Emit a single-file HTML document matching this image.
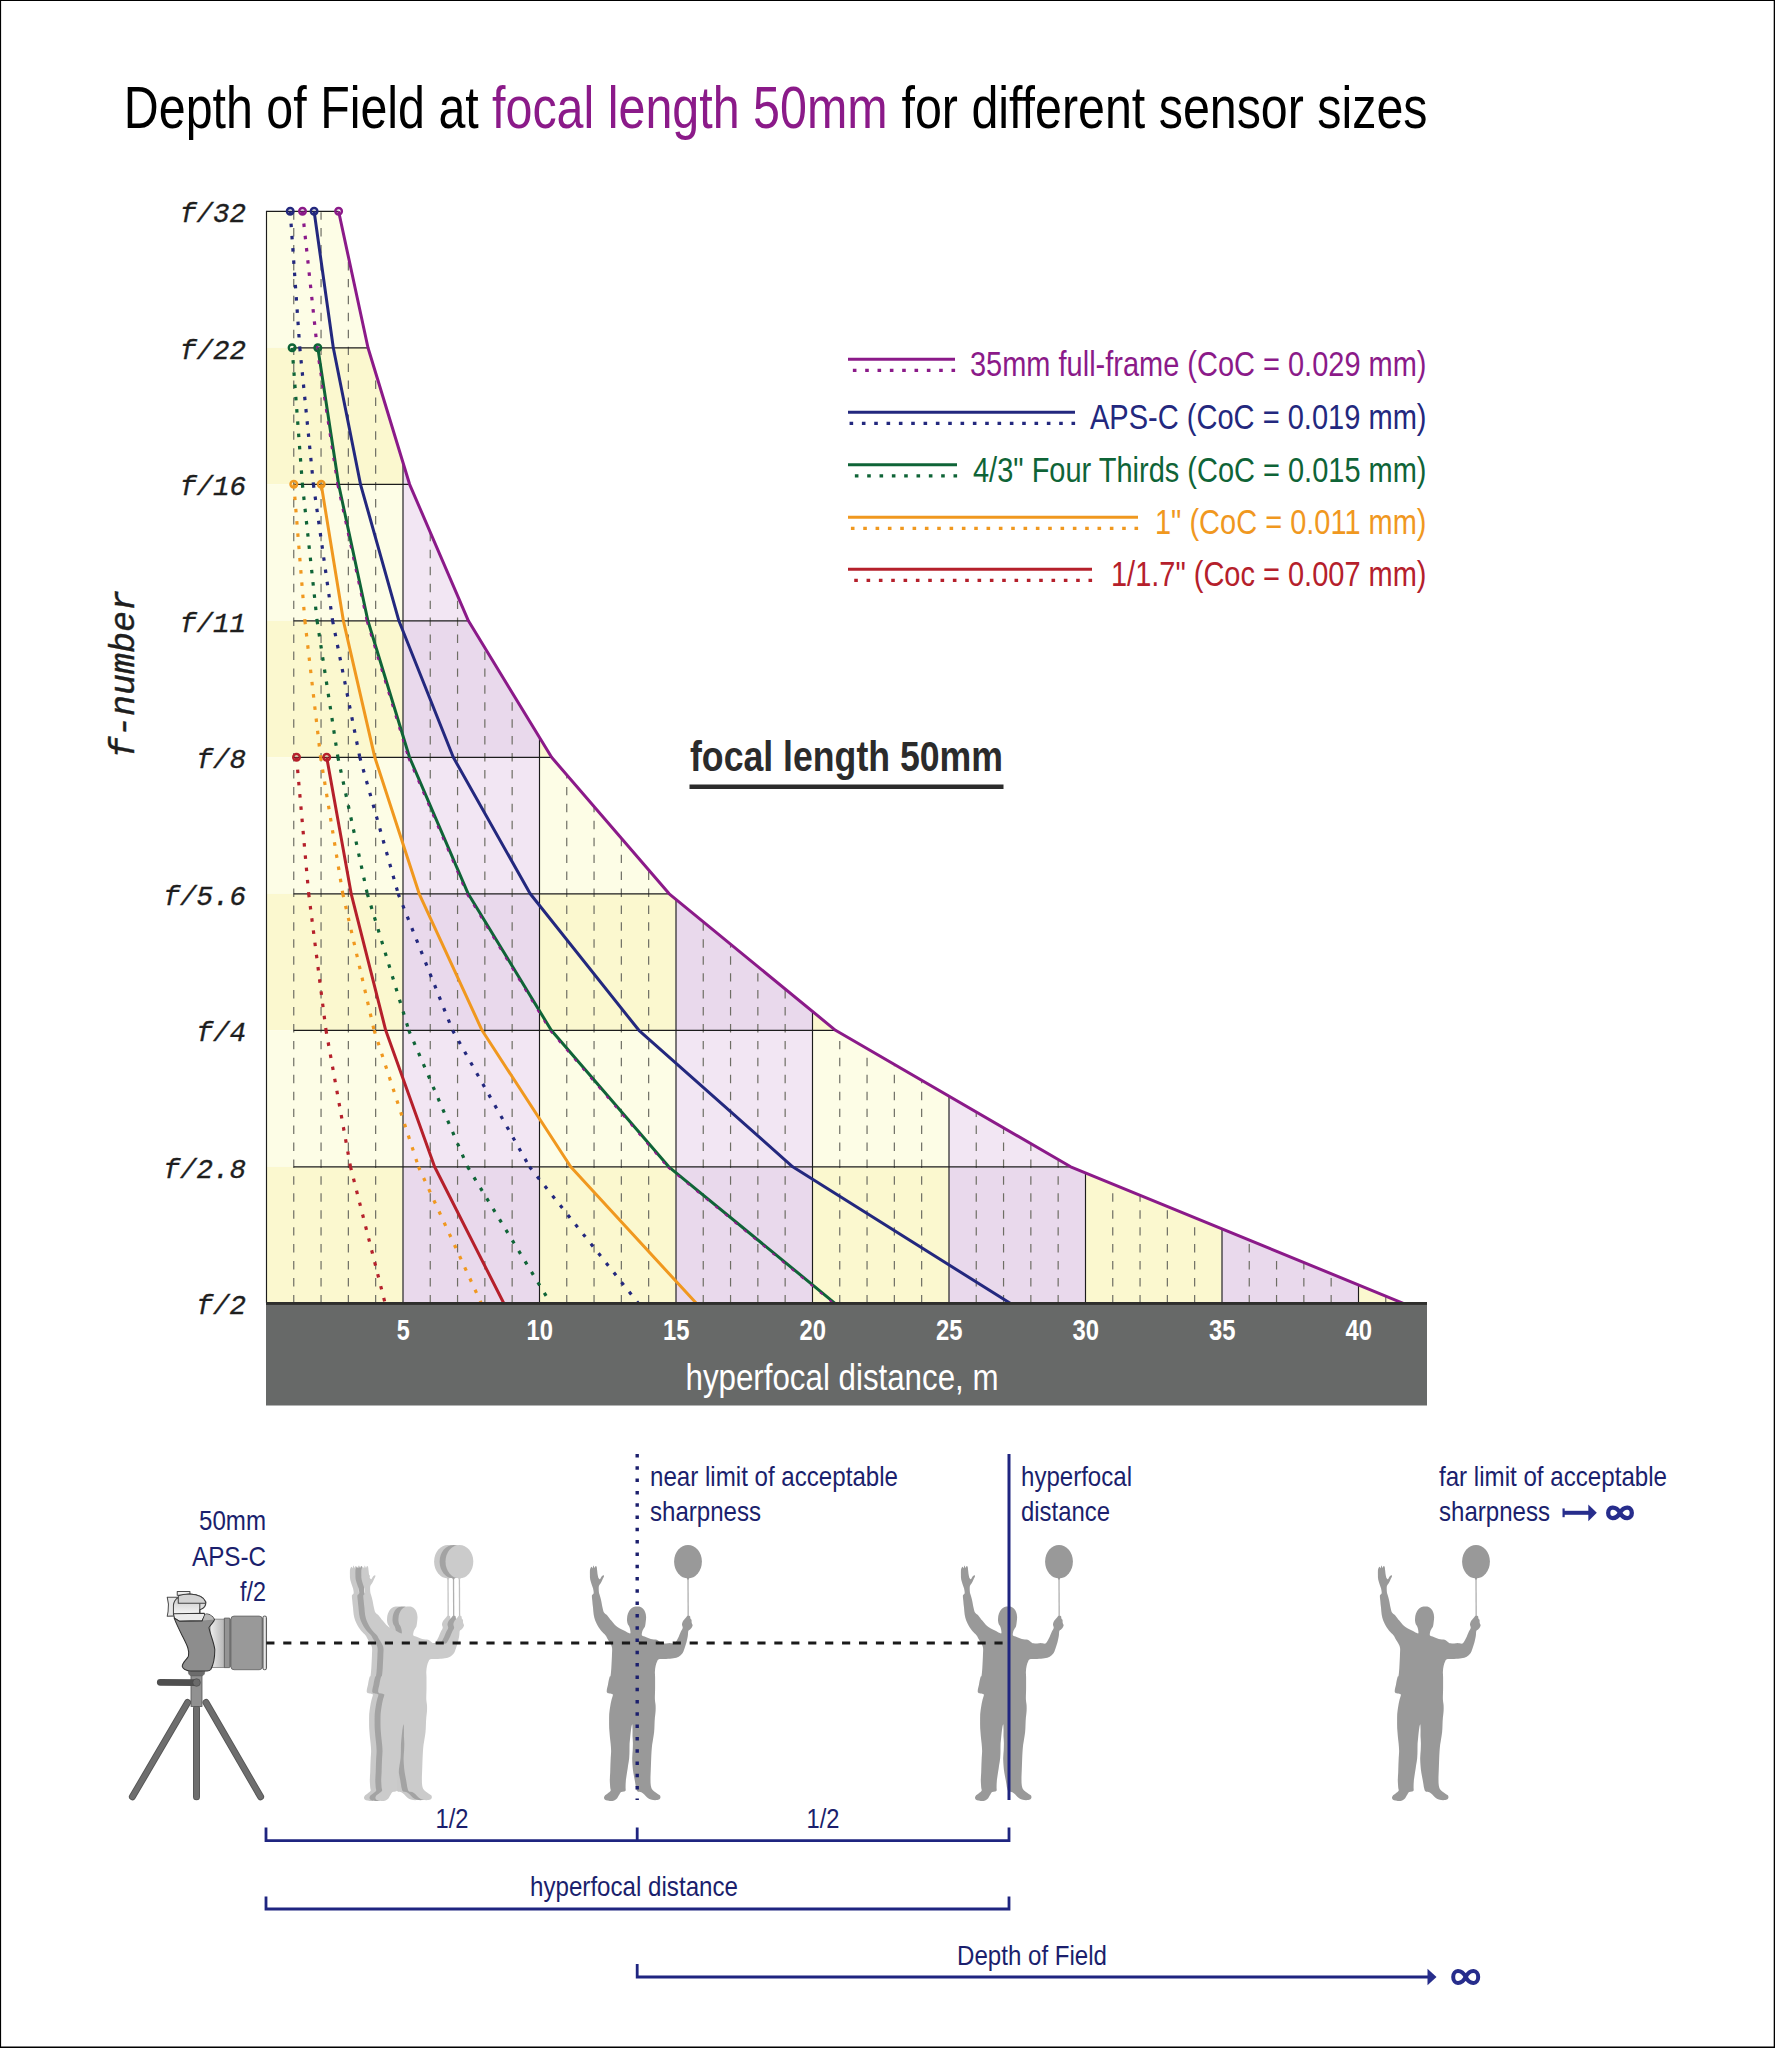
<!DOCTYPE html>
<html><head><meta charset="utf-8"><title>Depth of Field</title>
<style>
html,body{margin:0;padding:0;background:#fff;}
body{width:1775px;height:2048px;overflow:hidden;font-family:"Liberation Sans",sans-serif;}
svg{display:block;}
text{font-family:"Liberation Sans",sans-serif;}
.mono{font-family:"Liberation Mono",monospace;font-style:italic;}
</style></head><body>
<svg width="1775" height="2048" viewBox="0 0 1775 2048">
<rect x="0" y="0" width="1775" height="2048" fill="#fff"/>
<text x="123.8" y="127.8" font-size="58.4" fill="#000" text-anchor="start" font-weight="normal" textLength="355" lengthAdjust="spacingAndGlyphs">Depth of Field at</text>
<text x="492" y="127.8" font-size="58.4" fill="#8b1a89" text-anchor="start" font-weight="normal" textLength="395.6" lengthAdjust="spacingAndGlyphs">focal length 50mm</text>
<text x="901.5" y="127.8" font-size="58.4" fill="#000" text-anchor="start" font-weight="normal" textLength="526" lengthAdjust="spacingAndGlyphs">for different sensor sizes</text>
<defs><clipPath id="cp"><path d="M266.3,211.3 L338.6,211.3 L368.0,347.8 L409.6,484.3 L468.4,620.8 L551.6,757.3 L669.2,893.8 L835.5,1030.3 L1070.7,1166.8 L1403.3,1303.3 L266.3,1303.3 Z"/></clipPath></defs>
<g clip-path="url(#cp)">
<rect x="266.3" y="211.3" width="136.5" height="136.5" fill="#fdfde6"/>
<rect x="266.3" y="347.8" width="136.5" height="136.5" fill="#fbf8cf"/>
<rect x="266.3" y="484.3" width="136.5" height="136.5" fill="#fdfde6"/>
<rect x="266.3" y="620.8" width="136.5" height="136.5" fill="#fbf8cf"/>
<rect x="266.3" y="757.3" width="136.5" height="136.5" fill="#fdfde6"/>
<rect x="266.3" y="893.8" width="136.5" height="136.5" fill="#fbf8cf"/>
<rect x="266.3" y="1030.3" width="136.5" height="136.5" fill="#fdfde6"/>
<rect x="266.3" y="1166.8" width="136.5" height="136.5" fill="#fbf8cf"/>
<rect x="402.8" y="211.3" width="136.5" height="136.5" fill="#f2e6f3"/>
<rect x="402.8" y="347.8" width="136.5" height="136.5" fill="#e9d9ec"/>
<rect x="402.8" y="484.3" width="136.5" height="136.5" fill="#f2e6f3"/>
<rect x="402.8" y="620.8" width="136.5" height="136.5" fill="#e9d9ec"/>
<rect x="402.8" y="757.3" width="136.5" height="136.5" fill="#f2e6f3"/>
<rect x="402.8" y="893.8" width="136.5" height="136.5" fill="#e9d9ec"/>
<rect x="402.8" y="1030.3" width="136.5" height="136.5" fill="#f2e6f3"/>
<rect x="402.8" y="1166.8" width="136.5" height="136.5" fill="#e9d9ec"/>
<rect x="539.3" y="211.3" width="136.5" height="136.5" fill="#fdfde6"/>
<rect x="539.3" y="347.8" width="136.5" height="136.5" fill="#fbf8cf"/>
<rect x="539.3" y="484.3" width="136.5" height="136.5" fill="#fdfde6"/>
<rect x="539.3" y="620.8" width="136.5" height="136.5" fill="#fbf8cf"/>
<rect x="539.3" y="757.3" width="136.5" height="136.5" fill="#fdfde6"/>
<rect x="539.3" y="893.8" width="136.5" height="136.5" fill="#fbf8cf"/>
<rect x="539.3" y="1030.3" width="136.5" height="136.5" fill="#fdfde6"/>
<rect x="539.3" y="1166.8" width="136.5" height="136.5" fill="#fbf8cf"/>
<rect x="675.8" y="211.3" width="136.5" height="136.5" fill="#f2e6f3"/>
<rect x="675.8" y="347.8" width="136.5" height="136.5" fill="#e9d9ec"/>
<rect x="675.8" y="484.3" width="136.5" height="136.5" fill="#f2e6f3"/>
<rect x="675.8" y="620.8" width="136.5" height="136.5" fill="#e9d9ec"/>
<rect x="675.8" y="757.3" width="136.5" height="136.5" fill="#f2e6f3"/>
<rect x="675.8" y="893.8" width="136.5" height="136.5" fill="#e9d9ec"/>
<rect x="675.8" y="1030.3" width="136.5" height="136.5" fill="#f2e6f3"/>
<rect x="675.8" y="1166.8" width="136.5" height="136.5" fill="#e9d9ec"/>
<rect x="812.3" y="211.3" width="136.5" height="136.5" fill="#fdfde6"/>
<rect x="812.3" y="347.8" width="136.5" height="136.5" fill="#fbf8cf"/>
<rect x="812.3" y="484.3" width="136.5" height="136.5" fill="#fdfde6"/>
<rect x="812.3" y="620.8" width="136.5" height="136.5" fill="#fbf8cf"/>
<rect x="812.3" y="757.3" width="136.5" height="136.5" fill="#fdfde6"/>
<rect x="812.3" y="893.8" width="136.5" height="136.5" fill="#fbf8cf"/>
<rect x="812.3" y="1030.3" width="136.5" height="136.5" fill="#fdfde6"/>
<rect x="812.3" y="1166.8" width="136.5" height="136.5" fill="#fbf8cf"/>
<rect x="948.8" y="211.3" width="136.5" height="136.5" fill="#f2e6f3"/>
<rect x="948.8" y="347.8" width="136.5" height="136.5" fill="#e9d9ec"/>
<rect x="948.8" y="484.3" width="136.5" height="136.5" fill="#f2e6f3"/>
<rect x="948.8" y="620.8" width="136.5" height="136.5" fill="#e9d9ec"/>
<rect x="948.8" y="757.3" width="136.5" height="136.5" fill="#f2e6f3"/>
<rect x="948.8" y="893.8" width="136.5" height="136.5" fill="#e9d9ec"/>
<rect x="948.8" y="1030.3" width="136.5" height="136.5" fill="#f2e6f3"/>
<rect x="948.8" y="1166.8" width="136.5" height="136.5" fill="#e9d9ec"/>
<rect x="1085.3" y="211.3" width="136.5" height="136.5" fill="#fdfde6"/>
<rect x="1085.3" y="347.8" width="136.5" height="136.5" fill="#fbf8cf"/>
<rect x="1085.3" y="484.3" width="136.5" height="136.5" fill="#fdfde6"/>
<rect x="1085.3" y="620.8" width="136.5" height="136.5" fill="#fbf8cf"/>
<rect x="1085.3" y="757.3" width="136.5" height="136.5" fill="#fdfde6"/>
<rect x="1085.3" y="893.8" width="136.5" height="136.5" fill="#fbf8cf"/>
<rect x="1085.3" y="1030.3" width="136.5" height="136.5" fill="#fdfde6"/>
<rect x="1085.3" y="1166.8" width="136.5" height="136.5" fill="#fbf8cf"/>
<rect x="1221.8" y="211.3" width="136.5" height="136.5" fill="#f2e6f3"/>
<rect x="1221.8" y="347.8" width="136.5" height="136.5" fill="#e9d9ec"/>
<rect x="1221.8" y="484.3" width="136.5" height="136.5" fill="#f2e6f3"/>
<rect x="1221.8" y="620.8" width="136.5" height="136.5" fill="#e9d9ec"/>
<rect x="1221.8" y="757.3" width="136.5" height="136.5" fill="#f2e6f3"/>
<rect x="1221.8" y="893.8" width="136.5" height="136.5" fill="#e9d9ec"/>
<rect x="1221.8" y="1030.3" width="136.5" height="136.5" fill="#f2e6f3"/>
<rect x="1221.8" y="1166.8" width="136.5" height="136.5" fill="#e9d9ec"/>
<rect x="1358.3" y="211.3" width="136.5" height="136.5" fill="#fdfde6"/>
<rect x="1358.3" y="347.8" width="136.5" height="136.5" fill="#fbf8cf"/>
<rect x="1358.3" y="484.3" width="136.5" height="136.5" fill="#fdfde6"/>
<rect x="1358.3" y="620.8" width="136.5" height="136.5" fill="#fbf8cf"/>
<rect x="1358.3" y="757.3" width="136.5" height="136.5" fill="#fdfde6"/>
<rect x="1358.3" y="893.8" width="136.5" height="136.5" fill="#fbf8cf"/>
<rect x="1358.3" y="1030.3" width="136.5" height="136.5" fill="#fdfde6"/>
<rect x="1358.3" y="1166.8" width="136.5" height="136.5" fill="#fbf8cf"/>
</g>
<g stroke="#6e6e64" stroke-width="1.2" stroke-dasharray="8.45 8.483" fill="none">
<line x1="293.75" y1="1303.35" x2="293.75" y2="212.3"/>
<line x1="321.05" y1="1303.35" x2="321.05" y2="212.3"/>
<line x1="348.35" y1="1303.35" x2="348.35" y2="256.7"/>
<line x1="375.65" y1="1303.35" x2="375.65" y2="373.3"/>
<line x1="430.25" y1="1303.35" x2="430.25" y2="532.8"/>
<line x1="457.55" y1="1303.35" x2="457.55" y2="596.2"/>
<line x1="484.85" y1="1303.35" x2="484.85" y2="648.5"/>
<line x1="512.15" y1="1303.35" x2="512.15" y2="693.3"/>
<line x1="566.75" y1="1303.35" x2="566.75" y2="775.7"/>
<line x1="594.05" y1="1303.35" x2="594.05" y2="807.4"/>
<line x1="621.35" y1="1303.35" x2="621.35" y2="839.1"/>
<line x1="648.65" y1="1303.35" x2="648.65" y2="870.8"/>
<line x1="703.25" y1="1303.35" x2="703.25" y2="922.6"/>
<line x1="730.55" y1="1303.35" x2="730.55" y2="945.0"/>
<line x1="757.85" y1="1303.35" x2="757.85" y2="967.4"/>
<line x1="785.15" y1="1303.35" x2="785.15" y2="989.8"/>
<line x1="839.75" y1="1303.35" x2="839.75" y2="1033.7"/>
<line x1="867.05" y1="1303.35" x2="867.05" y2="1049.5"/>
<line x1="894.35" y1="1303.35" x2="894.35" y2="1065.4"/>
<line x1="921.65" y1="1303.35" x2="921.65" y2="1081.2"/>
<line x1="976.25" y1="1303.35" x2="976.25" y2="1112.9"/>
<line x1="1003.55" y1="1303.35" x2="1003.55" y2="1128.7"/>
<line x1="1030.85" y1="1303.35" x2="1030.85" y2="1144.6"/>
<line x1="1058.15" y1="1303.35" x2="1058.15" y2="1160.4"/>
<line x1="1112.75" y1="1303.35" x2="1112.75" y2="1185.0"/>
<line x1="1140.05" y1="1303.35" x2="1140.05" y2="1196.2"/>
<line x1="1167.35" y1="1303.35" x2="1167.35" y2="1207.4"/>
<line x1="1194.65" y1="1303.35" x2="1194.65" y2="1218.6"/>
<line x1="1249.25" y1="1303.35" x2="1249.25" y2="1241.0"/>
<line x1="1276.55" y1="1303.35" x2="1276.55" y2="1252.2"/>
<line x1="1303.85" y1="1303.35" x2="1303.85" y2="1263.4"/>
<line x1="1331.15" y1="1303.35" x2="1331.15" y2="1274.6"/>
<line x1="1385.75" y1="1303.35" x2="1385.75" y2="1297.0"/>
</g>
<g stroke="#1c1c1c" stroke-width="1.15" fill="none">
<line x1="403.00" y1="1303.3" x2="403.00" y2="461.9"/>
<line x1="539.50" y1="1303.3" x2="539.50" y2="737.1"/>
<line x1="676.00" y1="1303.3" x2="676.00" y2="899.2"/>
<line x1="812.50" y1="1303.3" x2="812.50" y2="1011.3"/>
<line x1="949.00" y1="1303.3" x2="949.00" y2="1096.0"/>
<line x1="1085.50" y1="1303.3" x2="1085.50" y2="1172.8"/>
<line x1="1222.00" y1="1303.3" x2="1222.00" y2="1228.8"/>
<line x1="1358.50" y1="1303.3" x2="1358.50" y2="1284.8"/>
<path d="M266.5,1303.3 L266.5,211.3 L338.6,211.3"/>
<line x1="293.6" y1="347.8" x2="368.0" y2="347.8"/>
<line x1="293.6" y1="484.3" x2="409.6" y2="484.3"/>
<line x1="293.6" y1="620.8" x2="468.4" y2="620.8"/>
<line x1="293.6" y1="757.3" x2="551.6" y2="757.3"/>
<line x1="293.6" y1="893.8" x2="669.2" y2="893.8"/>
<line x1="293.6" y1="1030.3" x2="835.5" y2="1030.3"/>
<line x1="293.6" y1="1166.8" x2="1070.7" y2="1166.8"/>
</g>
<g fill="none" stroke="#b5202b" stroke-width="3.2" stroke-dasharray="3.5 8.8"><line x1="296.5" y1="757.3" x2="308.7" y2="893.8"/><line x1="308.7" y1="893.8" x2="326.0" y2="1030.3"/><line x1="326.0" y1="1030.3" x2="350.5" y2="1166.8"/><line x1="350.5" y1="1166.8" x2="385.1" y2="1303.3"/></g>
<g fill="none" stroke="#f0981f" stroke-width="3.2" stroke-dasharray="3.5 8.8"><line x1="293.8" y1="484.3" x2="304.9" y2="620.8"/><line x1="304.9" y1="620.8" x2="320.6" y2="757.3"/><line x1="320.6" y1="757.3" x2="342.8" y2="893.8"/><line x1="342.8" y1="893.8" x2="374.1" y2="1030.3"/><line x1="374.1" y1="1030.3" x2="418.5" y2="1166.8"/><line x1="418.5" y1="1166.8" x2="481.3" y2="1303.3"/></g>
<g fill="none" stroke="#0f6437" stroke-width="3.2" stroke-dasharray="3.5 8.8"><line x1="292.1" y1="347.8" x2="302.4" y2="484.3"/><line x1="302.4" y1="484.3" x2="317.1" y2="620.8"/><line x1="317.1" y1="620.8" x2="337.9" y2="757.3"/><line x1="337.9" y1="757.3" x2="367.3" y2="893.8"/><line x1="367.3" y1="893.8" x2="408.8" y2="1030.3"/><line x1="408.8" y1="1030.3" x2="467.6" y2="1166.8"/><line x1="467.6" y1="1166.8" x2="550.6" y2="1303.3"/></g>
<g fill="none" stroke="#23287e" stroke-width="3.2" stroke-dasharray="3.5 8.8"><line x1="290.2" y1="211.3" x2="299.8" y2="347.8"/><line x1="299.8" y1="347.8" x2="313.4" y2="484.3"/><line x1="313.4" y1="484.3" x2="332.6" y2="620.8"/><line x1="332.6" y1="620.8" x2="359.8" y2="757.3"/><line x1="359.8" y1="757.3" x2="398.2" y2="893.8"/><line x1="398.2" y1="893.8" x2="452.6" y2="1030.3"/><line x1="452.6" y1="1030.3" x2="529.5" y2="1166.8"/><line x1="529.5" y1="1166.8" x2="638.3" y2="1303.3"/></g>
<polyline points="326.7,757.3 351.2,893.8 385.7,1030.3 434.6,1166.8 503.8,1303.3" fill="none" stroke="#b5202b" stroke-width="3" stroke-linejoin="round"/>
<polyline points="321.2,484.3 343.4,620.8 374.8,757.3 419.2,893.8 482.0,1030.3 570.7,1166.8 696.3,1303.3" fill="none" stroke="#f0981f" stroke-width="3" stroke-linejoin="round"/>
<polyline points="317.8,347.8 338.6,484.3 367.9,620.8 409.5,757.3 468.2,893.8 551.3,1030.3 668.8,1166.8 835.0,1303.3" fill="none" stroke="#0f6437" stroke-width="3" stroke-linejoin="round"/>
<polyline points="314.1,211.3 333.3,347.8 360.5,484.3 398.9,620.8 453.3,757.3 530.2,893.8 638.9,1030.3 792.7,1166.8 1010.2,1303.3" fill="none" stroke="#23287e" stroke-width="3" stroke-linejoin="round"/>
<polyline points="338.6,211.3 368.0,347.8 409.6,484.3 468.4,620.8 551.6,757.3 669.2,893.8 835.5,1030.3 1070.7,1166.8 1403.3,1303.3" fill="none" stroke="#8b1a89" stroke-width="3" stroke-linejoin="round"/>
<g fill="none" stroke="#8b1a89" stroke-width="3.2" stroke-dasharray="3.5 8.8"><line x1="302.5" y1="211.3" x2="317.2" y2="347.8"/></g>
<g fill="none" stroke="#8b1a89" stroke-width="1.9" stroke-dasharray="3.5 8.8"><line x1="316.5" y1="348.3" x2="337.3" y2="484.8"/><line x1="337.3" y1="484.8" x2="366.7" y2="621.3"/><line x1="366.7" y1="621.3" x2="408.2" y2="757.8"/><line x1="408.2" y1="757.8" x2="467.0" y2="894.3"/><line x1="467.0" y1="894.3" x2="550.2" y2="1030.8"/><line x1="550.2" y1="1030.8" x2="667.8" y2="1167.3"/><line x1="667.8" y1="1167.3" x2="834.1" y2="1303.8"/></g>
<circle cx="296.5" cy="757.3" r="3.3" fill="none" stroke="#b5202b" stroke-width="2.4"/>
<circle cx="326.7" cy="757.3" r="3.3" fill="none" stroke="#b5202b" stroke-width="2.4"/>
<circle cx="293.8" cy="484.3" r="3.3" fill="none" stroke="#f0981f" stroke-width="2.4"/>
<circle cx="321.2" cy="484.3" r="3.3" fill="none" stroke="#f0981f" stroke-width="2.4"/>
<circle cx="292.1" cy="347.8" r="3.3" fill="none" stroke="#0f6437" stroke-width="2.4"/>
<circle cx="317.8" cy="347.8" r="3.3" fill="none" stroke="#0f6437" stroke-width="2.4"/>
<circle cx="290.2" cy="211.3" r="3.3" fill="none" stroke="#23287e" stroke-width="2.4"/>
<circle cx="314.1" cy="211.3" r="3.3" fill="none" stroke="#23287e" stroke-width="2.4"/>
<circle cx="302.5" cy="211.3" r="3.3" fill="none" stroke="#8b1a89" stroke-width="2.4"/>
<circle cx="338.6" cy="211.3" r="3.3" fill="none" stroke="#8b1a89" stroke-width="2.4"/>
<text x="246" y="222.3" font-size="27.5" fill="#1e1e1e" text-anchor="end" font-weight="normal" class="mono" stroke="#1e1e1e" stroke-width="0.35">f/32</text>
<text x="246" y="358.8" font-size="27.5" fill="#1e1e1e" text-anchor="end" font-weight="normal" class="mono" stroke="#1e1e1e" stroke-width="0.35">f/22</text>
<text x="246" y="495.3" font-size="27.5" fill="#1e1e1e" text-anchor="end" font-weight="normal" class="mono" stroke="#1e1e1e" stroke-width="0.35">f/16</text>
<text x="246" y="631.8" font-size="27.5" fill="#1e1e1e" text-anchor="end" font-weight="normal" class="mono" stroke="#1e1e1e" stroke-width="0.35">f/11</text>
<text x="246" y="768.3" font-size="27.5" fill="#1e1e1e" text-anchor="end" font-weight="normal" class="mono" stroke="#1e1e1e" stroke-width="0.35">f/8</text>
<text x="246" y="904.8" font-size="27.5" fill="#1e1e1e" text-anchor="end" font-weight="normal" class="mono" stroke="#1e1e1e" stroke-width="0.35">f/5.6</text>
<text x="246" y="1041.3" font-size="27.5" fill="#1e1e1e" text-anchor="end" font-weight="normal" class="mono" stroke="#1e1e1e" stroke-width="0.35">f/4</text>
<text x="246" y="1177.8" font-size="27.5" fill="#1e1e1e" text-anchor="end" font-weight="normal" class="mono" stroke="#1e1e1e" stroke-width="0.35">f/2.8</text>
<text x="246" y="1314.3" font-size="27.5" fill="#1e1e1e" text-anchor="end" font-weight="normal" class="mono" stroke="#1e1e1e" stroke-width="0.35">f/2</text>
<text class="mono" font-size="35" fill="#1e1e1e" stroke="#1e1e1e" stroke-width="0.4" text-anchor="middle" transform="translate(134,674) rotate(-90)">f-number</text>
<rect x="266" y="1303" width="1161" height="102.5" fill="#676968"/>
<rect x="266" y="1302" width="1161" height="2.9" fill="#2e2e2c"/>
<text x="403.3" y="1340.3" font-size="30" fill="#fff" text-anchor="middle" font-weight="bold" textLength="13" lengthAdjust="spacingAndGlyphs">5</text>
<text x="539.8" y="1340.3" font-size="30" fill="#fff" text-anchor="middle" font-weight="bold" textLength="26.5" lengthAdjust="spacingAndGlyphs">10</text>
<text x="676.3" y="1340.3" font-size="30" fill="#fff" text-anchor="middle" font-weight="bold" textLength="26.5" lengthAdjust="spacingAndGlyphs">15</text>
<text x="812.8" y="1340.3" font-size="30" fill="#fff" text-anchor="middle" font-weight="bold" textLength="26.5" lengthAdjust="spacingAndGlyphs">20</text>
<text x="949.3" y="1340.3" font-size="30" fill="#fff" text-anchor="middle" font-weight="bold" textLength="26.5" lengthAdjust="spacingAndGlyphs">25</text>
<text x="1085.8" y="1340.3" font-size="30" fill="#fff" text-anchor="middle" font-weight="bold" textLength="26.5" lengthAdjust="spacingAndGlyphs">30</text>
<text x="1222.3" y="1340.3" font-size="30" fill="#fff" text-anchor="middle" font-weight="bold" textLength="26.5" lengthAdjust="spacingAndGlyphs">35</text>
<text x="1358.8" y="1340.3" font-size="30" fill="#fff" text-anchor="middle" font-weight="bold" textLength="26.5" lengthAdjust="spacingAndGlyphs">40</text>
<text x="842" y="1390" font-size="37" fill="#fff" text-anchor="middle" font-weight="normal" textLength="313" lengthAdjust="spacingAndGlyphs">hyperfocal distance, m</text>
<line x1="848" y1="359.3" x2="955" y2="359.3" stroke="#8b1a89" stroke-width="3"/>
<line x1="955.1" y1="370.3" x2="848" y2="370.3" stroke="#8b1a89" stroke-width="3.2" stroke-dasharray="3.6 8.73"/>
<text x="1426.5" y="376" font-size="34.5" fill="#8b1a89" text-anchor="end" font-weight="normal" textLength="456.5" lengthAdjust="spacingAndGlyphs">35mm full-frame (CoC = 0.029 mm)</text>
<line x1="848" y1="412.3" x2="1075" y2="412.3" stroke="#23287e" stroke-width="3"/>
<line x1="1075.1" y1="423.3" x2="848" y2="423.3" stroke="#23287e" stroke-width="3.2" stroke-dasharray="3.6 8.73"/>
<text x="1426.5" y="429" font-size="34.5" fill="#23287e" text-anchor="end" font-weight="normal" textLength="336.5" lengthAdjust="spacingAndGlyphs">APS-C (CoC = 0.019 mm)</text>
<line x1="848" y1="464.8" x2="957" y2="464.8" stroke="#0f6437" stroke-width="3"/>
<line x1="957.1" y1="475.8" x2="848" y2="475.8" stroke="#0f6437" stroke-width="3.2" stroke-dasharray="3.6 8.73"/>
<text x="1426.5" y="481.5" font-size="34.5" fill="#0f6437" text-anchor="end" font-weight="normal" textLength="453.5" lengthAdjust="spacingAndGlyphs">4/3&quot; Four Thirds (CoC = 0.015 mm)</text>
<line x1="848" y1="517.3" x2="1138" y2="517.3" stroke="#f0981f" stroke-width="3"/>
<line x1="1138.1" y1="528.3" x2="848" y2="528.3" stroke="#f0981f" stroke-width="3.2" stroke-dasharray="3.6 8.73"/>
<text x="1426.5" y="534" font-size="34.5" fill="#f0981f" text-anchor="end" font-weight="normal" textLength="271.5" lengthAdjust="spacingAndGlyphs">1&quot; (CoC = 0.011 mm)</text>
<line x1="848" y1="569.3" x2="1092" y2="569.3" stroke="#b5202b" stroke-width="3"/>
<line x1="1092.1" y1="580.3" x2="848" y2="580.3" stroke="#b5202b" stroke-width="3.2" stroke-dasharray="3.6 8.73"/>
<text x="1426.5" y="586" font-size="34.5" fill="#b5202b" text-anchor="end" font-weight="normal" textLength="315.5" lengthAdjust="spacingAndGlyphs">1/1.7&quot; (Coc = 0.007 mm)</text>
<text x="690" y="770.7" font-size="43" fill="#2b2b2b" text-anchor="start" font-weight="bold" textLength="313" lengthAdjust="spacingAndGlyphs">focal length 50mm</text>
<rect x="689.5" y="784.5" width="314" height="4.5" fill="#2b2b2b"/>
<g transform="translate(342.0,1540.0)"><line x1="106.0" y1="38.5" x2="106.2" y2="76.3" stroke="#c4c4c4" stroke-width="1.3"/><ellipse cx="106.0" cy="21.6" rx="13.9" ry="16.7" fill="#c9c9c9"/><path d="M104.5,37.8 l1.5,2.5 l1.5,-2.5z" fill="#c9c9c9"/><path d="M8.1,29.3C8.3,28.0 9.1,26.9 9.5,26.7C9.9,26.5 10.3,28.4 10.6,28.2C10.9,28.0 11.0,25.7 11.4,25.6C11.7,25.6 12.1,27.7 12.5,27.8C12.8,27.9 13.2,26.4 13.5,26.2C13.9,26.0 14.4,26.2 14.6,26.7C14.9,27.2 14.9,28.1 15.0,29.3C15.2,30.5 15.3,32.2 15.5,33.7C15.8,35.2 16.1,37.2 16.5,38.1C16.9,39.0 17.4,39.5 17.9,39.2C18.5,38.9 19.2,36.9 19.8,36.3C20.4,35.6 21.2,35.2 21.6,35.2C22.0,35.2 22.2,35.5 22.0,36.3C21.8,37.0 21.1,38.4 20.5,39.5C20.0,40.7 19.3,42.2 18.7,43.2C18.1,44.2 17.3,44.9 17.0,45.8C16.7,46.6 16.7,47.2 16.7,48.3C16.7,49.5 16.8,51.5 17.0,52.7C17.2,54.0 17.6,54.3 17.9,55.7C18.3,57.0 18.8,58.8 19.2,60.8C19.6,62.7 20.0,65.4 20.5,67.4C21.0,69.3 21.2,71.2 22.0,72.5C22.8,73.8 24.0,74.1 25.3,75.4C26.5,76.8 28.0,79.0 29.3,80.6C30.6,82.1 31.6,83.7 33.0,85.0C34.3,86.2 35.8,87.3 37.4,88.3C38.9,89.2 40.7,90.0 42.5,90.8C44.2,91.7 47.0,93.5 48.0,93.4C48.9,93.3 48.3,91.2 48.2,90.1C48.1,88.9 47.6,87.4 47.2,86.4C46.8,85.4 46.1,85.2 45.8,84.2C45.4,83.2 45.1,82.0 45.0,80.6C45.0,79.1 45.1,77.0 45.4,75.4C45.7,73.9 46.1,72.6 46.9,71.4C47.6,70.2 48.7,68.9 49.8,68.1C50.9,67.3 52.2,66.9 53.5,66.6C54.7,66.4 55.9,66.3 57.1,66.6C58.3,67.0 59.8,67.6 60.8,68.5C61.8,69.4 62.6,70.7 63.1,72.1C63.7,73.5 64.0,75.3 64.1,76.9C64.2,78.5 63.9,80.4 63.7,82.0C63.5,83.6 63.4,85.2 63.0,86.4C62.6,87.6 61.6,88.4 61.2,89.4C60.7,90.3 60.2,91.2 60.1,92.3C59.9,93.3 59.4,94.8 60.1,95.6C60.7,96.4 62.3,96.5 63.7,97.0C65.2,97.6 67.0,98.4 68.8,98.9C70.7,99.3 73.2,99.3 74.7,99.8C76.2,100.2 76.8,101.2 77.6,101.8C78.5,102.4 78.7,103.0 79.8,103.3C80.9,103.5 82.9,103.4 84.2,103.4C85.6,103.4 86.5,103.1 87.9,103.1C89.2,103.2 91.2,104.0 92.3,103.6C93.4,103.3 93.7,102.2 94.5,101.1C95.2,99.9 95.9,98.3 96.7,96.7C97.4,95.1 98.2,93.0 98.9,91.5C99.5,90.1 100.5,89.1 100.7,87.9C100.9,86.7 99.8,85.4 100.0,84.2C100.1,83.0 100.8,81.7 101.4,80.6C102.1,79.5 103.3,78.4 104.0,77.6C104.7,76.8 104.8,76.0 105.5,75.8C106.1,75.6 107.5,75.7 108.0,76.2C108.5,76.6 108.1,77.8 108.4,78.4C108.6,79.0 109.3,79.1 109.5,79.8C109.7,80.6 109.5,81.8 109.7,82.8C109.9,83.7 110.6,84.5 110.6,85.3C110.6,86.2 110.0,87.1 109.5,87.9C108.9,88.7 107.8,89.5 107.3,90.1C106.7,90.7 106.4,90.6 106.2,91.5C106.0,92.5 106.1,94.1 105.8,95.9C105.5,97.8 104.9,100.5 104.4,102.5C103.8,104.6 103.2,106.6 102.5,108.4C101.9,110.2 101.3,112.1 100.3,113.5C99.4,114.9 98.1,116.0 96.7,116.8C95.2,117.6 93.6,117.9 91.5,118.3C89.5,118.6 86.7,118.9 84.2,119.0C81.8,119.2 78.4,118.8 76.9,119.2C75.4,119.7 75.6,120.5 75.1,121.6C74.5,122.7 74.0,124.3 73.6,126.0C73.2,127.7 73.0,129.9 72.9,131.8C72.8,133.7 73.1,134.6 73.1,137.3C73.1,140.1 73.1,144.6 73.1,148.3C73.1,152.0 72.8,156.5 72.9,159.3C73.0,162.1 73.5,163.2 73.6,165.2C73.7,167.1 73.7,168.9 73.6,171.0C73.5,173.1 73.1,175.3 72.9,177.6C72.7,179.9 72.6,182.5 72.5,184.9C72.4,187.4 72.4,189.8 72.1,192.3C71.9,194.7 71.4,197.1 71.0,199.6C70.7,202.0 70.2,203.8 69.9,206.9C69.6,210.0 69.4,214.2 69.2,217.9C69.0,221.5 69.0,225.2 68.8,228.9C68.7,232.5 68.4,236.8 68.5,239.9C68.5,242.9 68.7,245.3 69.2,247.2C69.7,249.0 70.4,249.7 71.4,250.8C72.4,251.9 74.3,253.0 75.4,253.8C76.5,254.6 77.5,254.9 78.0,255.6C78.5,256.3 78.5,257.1 78.4,257.8C78.2,258.5 77.8,259.2 76.9,259.6C76.0,260.0 74.6,260.2 73.2,260.2C71.9,260.2 70.2,260.1 68.8,259.6C67.5,259.2 66.3,258.3 65.2,257.4C64.1,256.6 63.2,255.4 62.3,254.5C61.3,253.6 60.4,252.8 59.3,252.3C58.2,251.8 56.5,252.2 55.7,251.6C54.8,251.0 54.7,250.6 54.2,248.6C53.7,246.7 53.2,242.5 52.7,239.9C52.2,237.2 51.6,235.0 51.3,232.5C50.9,230.1 50.7,227.7 50.5,225.2C50.4,222.8 50.1,220.3 50.2,217.9C50.2,215.4 50.6,213.0 50.7,210.6C50.8,208.1 50.9,205.7 50.9,203.2C50.9,200.8 50.6,198.4 50.5,195.9C50.5,193.5 50.6,190.5 50.5,188.6C50.5,186.6 50.4,184.2 50.2,184.2C49.9,184.2 49.5,186.6 49.2,188.6C48.9,190.5 48.6,193.5 48.3,195.9C48.1,198.4 47.8,200.8 47.6,203.2C47.5,205.7 47.5,208.1 47.5,210.6C47.4,213.0 47.5,215.4 47.2,217.9C47.0,220.3 46.5,222.8 46.1,225.2C45.8,227.7 45.4,230.1 45.0,232.5C44.7,235.0 44.2,237.4 43.9,239.9C43.7,242.3 43.6,245.4 43.6,247.2C43.5,249.0 43.9,249.7 43.6,250.5C43.3,251.2 42.5,251.3 41.7,251.6C41.0,251.9 39.5,251.8 38.8,252.3C38.1,252.8 38.0,253.5 37.4,254.5C36.7,255.5 36.0,257.2 35.2,258.2C34.3,259.1 33.4,259.9 32.2,260.4C31.0,260.8 29.3,261.0 27.8,260.9C26.4,260.9 24.4,260.5 23.4,260.0C22.5,259.5 22.0,258.6 22.0,257.8C21.9,257.0 22.5,256.0 23.1,255.2C23.7,254.5 24.7,254.1 25.6,253.4C26.5,252.7 28.1,251.9 28.6,250.8C29.0,249.8 28.3,249.0 28.2,247.2C28.1,245.3 27.8,242.3 27.8,239.9C27.8,237.4 28.1,235.0 28.2,232.5C28.3,230.1 28.3,227.7 28.4,225.2C28.5,222.8 28.6,220.3 28.7,217.9C28.8,215.4 29.2,213.0 29.1,210.6C29.1,208.1 28.8,205.7 28.6,203.2C28.3,200.8 28.1,198.4 27.8,195.9C27.6,193.5 27.4,191.0 27.2,188.6C27.1,186.1 27.1,183.7 27.1,181.3C27.1,178.8 27.1,176.4 27.2,173.9C27.4,171.5 27.9,168.8 28.2,166.6C28.5,164.4 28.9,162.6 29.3,160.8C29.7,158.9 30.6,156.7 30.8,155.6C30.9,154.5 31.4,154.7 30.4,154.2C29.4,153.6 25.6,153.9 24.9,152.3C24.2,150.7 25.6,147.1 26.0,144.6C26.4,142.1 27.0,138.8 27.5,137.3C27.9,135.8 28.3,137.0 28.6,135.5C28.9,134.0 29.1,130.6 29.3,128.2C29.5,125.7 29.5,123.3 29.7,120.8C29.8,118.4 30.0,115.7 30.0,113.5C30.1,111.3 30.3,109.2 30.0,107.7C29.8,106.1 29.3,105.5 28.6,104.0C27.8,102.5 26.5,100.3 25.6,98.9C24.8,97.4 24.4,96.4 23.4,95.2C22.5,94.0 21.1,93.1 19.8,91.5C18.5,90.0 16.8,87.5 15.7,85.7C14.6,83.9 13.9,82.4 13.2,80.6C12.5,78.7 12.1,76.9 11.7,74.7C11.4,72.5 11.2,69.7 11.0,67.4C10.7,65.1 10.4,62.7 10.3,60.8C10.1,58.8 9.8,56.8 9.9,55.7C10.0,54.6 10.7,54.7 11.0,54.2C11.3,53.7 11.7,53.7 11.7,52.7C11.7,51.8 11.4,49.8 11.0,48.3C10.6,46.9 10.0,45.4 9.5,43.9C9.1,42.5 8.5,41.1 8.2,39.5C7.9,38.0 7.9,36.1 7.9,34.4C7.9,32.7 7.8,30.6 8.1,29.3Z" fill="#c9c9c9"/></g>
<g transform="translate(347.5,1540.0)"><line x1="106.0" y1="38.5" x2="106.2" y2="76.3" stroke="#b0b0b0" stroke-width="1.3"/><ellipse cx="106.0" cy="21.6" rx="13.9" ry="16.7" fill="#a3a3a3"/><path d="M104.5,37.8 l1.5,2.5 l1.5,-2.5z" fill="#a3a3a3"/><path d="M8.1,29.3C8.3,28.0 9.1,26.9 9.5,26.7C9.9,26.5 10.3,28.4 10.6,28.2C10.9,28.0 11.0,25.7 11.4,25.6C11.7,25.6 12.1,27.7 12.5,27.8C12.8,27.9 13.2,26.4 13.5,26.2C13.9,26.0 14.4,26.2 14.6,26.7C14.9,27.2 14.9,28.1 15.0,29.3C15.2,30.5 15.3,32.2 15.5,33.7C15.8,35.2 16.1,37.2 16.5,38.1C16.9,39.0 17.4,39.5 17.9,39.2C18.5,38.9 19.2,36.9 19.8,36.3C20.4,35.6 21.2,35.2 21.6,35.2C22.0,35.2 22.2,35.5 22.0,36.3C21.8,37.0 21.1,38.4 20.5,39.5C20.0,40.7 19.3,42.2 18.7,43.2C18.1,44.2 17.3,44.9 17.0,45.8C16.7,46.6 16.7,47.2 16.7,48.3C16.7,49.5 16.8,51.5 17.0,52.7C17.2,54.0 17.6,54.3 17.9,55.7C18.3,57.0 18.8,58.8 19.2,60.8C19.6,62.7 20.0,65.4 20.5,67.4C21.0,69.3 21.2,71.2 22.0,72.5C22.8,73.8 24.0,74.1 25.3,75.4C26.5,76.8 28.0,79.0 29.3,80.6C30.6,82.1 31.6,83.7 33.0,85.0C34.3,86.2 35.8,87.3 37.4,88.3C38.9,89.2 40.7,90.0 42.5,90.8C44.2,91.7 47.0,93.5 48.0,93.4C48.9,93.3 48.3,91.2 48.2,90.1C48.1,88.9 47.6,87.4 47.2,86.4C46.8,85.4 46.1,85.2 45.8,84.2C45.4,83.2 45.1,82.0 45.0,80.6C45.0,79.1 45.1,77.0 45.4,75.4C45.7,73.9 46.1,72.6 46.9,71.4C47.6,70.2 48.7,68.9 49.8,68.1C50.9,67.3 52.2,66.9 53.5,66.6C54.7,66.4 55.9,66.3 57.1,66.6C58.3,67.0 59.8,67.6 60.8,68.5C61.8,69.4 62.6,70.7 63.1,72.1C63.7,73.5 64.0,75.3 64.1,76.9C64.2,78.5 63.9,80.4 63.7,82.0C63.5,83.6 63.4,85.2 63.0,86.4C62.6,87.6 61.6,88.4 61.2,89.4C60.7,90.3 60.2,91.2 60.1,92.3C59.9,93.3 59.4,94.8 60.1,95.6C60.7,96.4 62.3,96.5 63.7,97.0C65.2,97.6 67.0,98.4 68.8,98.9C70.7,99.3 73.2,99.3 74.7,99.8C76.2,100.2 76.8,101.2 77.6,101.8C78.5,102.4 78.7,103.0 79.8,103.3C80.9,103.5 82.9,103.4 84.2,103.4C85.6,103.4 86.5,103.1 87.9,103.1C89.2,103.2 91.2,104.0 92.3,103.6C93.4,103.3 93.7,102.2 94.5,101.1C95.2,99.9 95.9,98.3 96.7,96.7C97.4,95.1 98.2,93.0 98.9,91.5C99.5,90.1 100.5,89.1 100.7,87.9C100.9,86.7 99.8,85.4 100.0,84.2C100.1,83.0 100.8,81.7 101.4,80.6C102.1,79.5 103.3,78.4 104.0,77.6C104.7,76.8 104.8,76.0 105.5,75.8C106.1,75.6 107.5,75.7 108.0,76.2C108.5,76.6 108.1,77.8 108.4,78.4C108.6,79.0 109.3,79.1 109.5,79.8C109.7,80.6 109.5,81.8 109.7,82.8C109.9,83.7 110.6,84.5 110.6,85.3C110.6,86.2 110.0,87.1 109.5,87.9C108.9,88.7 107.8,89.5 107.3,90.1C106.7,90.7 106.4,90.6 106.2,91.5C106.0,92.5 106.1,94.1 105.8,95.9C105.5,97.8 104.9,100.5 104.4,102.5C103.8,104.6 103.2,106.6 102.5,108.4C101.9,110.2 101.3,112.1 100.3,113.5C99.4,114.9 98.1,116.0 96.7,116.8C95.2,117.6 93.6,117.9 91.5,118.3C89.5,118.6 86.7,118.9 84.2,119.0C81.8,119.2 78.4,118.8 76.9,119.2C75.4,119.7 75.6,120.5 75.1,121.6C74.5,122.7 74.0,124.3 73.6,126.0C73.2,127.7 73.0,129.9 72.9,131.8C72.8,133.7 73.1,134.6 73.1,137.3C73.1,140.1 73.1,144.6 73.1,148.3C73.1,152.0 72.8,156.5 72.9,159.3C73.0,162.1 73.5,163.2 73.6,165.2C73.7,167.1 73.7,168.9 73.6,171.0C73.5,173.1 73.1,175.3 72.9,177.6C72.7,179.9 72.6,182.5 72.5,184.9C72.4,187.4 72.4,189.8 72.1,192.3C71.9,194.7 71.4,197.1 71.0,199.6C70.7,202.0 70.2,203.8 69.9,206.9C69.6,210.0 69.4,214.2 69.2,217.9C69.0,221.5 69.0,225.2 68.8,228.9C68.7,232.5 68.4,236.8 68.5,239.9C68.5,242.9 68.7,245.3 69.2,247.2C69.7,249.0 70.4,249.7 71.4,250.8C72.4,251.9 74.3,253.0 75.4,253.8C76.5,254.6 77.5,254.9 78.0,255.6C78.5,256.3 78.5,257.1 78.4,257.8C78.2,258.5 77.8,259.2 76.9,259.6C76.0,260.0 74.6,260.2 73.2,260.2C71.9,260.2 70.2,260.1 68.8,259.6C67.5,259.2 66.3,258.3 65.2,257.4C64.1,256.6 63.2,255.4 62.3,254.5C61.3,253.6 60.4,252.8 59.3,252.3C58.2,251.8 56.5,252.2 55.7,251.6C54.8,251.0 54.7,250.6 54.2,248.6C53.7,246.7 53.2,242.5 52.7,239.9C52.2,237.2 51.6,235.0 51.3,232.5C50.9,230.1 50.7,227.7 50.5,225.2C50.4,222.8 50.1,220.3 50.2,217.9C50.2,215.4 50.6,213.0 50.7,210.6C50.8,208.1 50.9,205.7 50.9,203.2C50.9,200.8 50.6,198.4 50.5,195.9C50.5,193.5 50.6,190.5 50.5,188.6C50.5,186.6 50.4,184.2 50.2,184.2C49.9,184.2 49.5,186.6 49.2,188.6C48.9,190.5 48.6,193.5 48.3,195.9C48.1,198.4 47.8,200.8 47.6,203.2C47.5,205.7 47.5,208.1 47.5,210.6C47.4,213.0 47.5,215.4 47.2,217.9C47.0,220.3 46.5,222.8 46.1,225.2C45.8,227.7 45.4,230.1 45.0,232.5C44.7,235.0 44.2,237.4 43.9,239.9C43.7,242.3 43.6,245.4 43.6,247.2C43.5,249.0 43.9,249.7 43.6,250.5C43.3,251.2 42.5,251.3 41.7,251.6C41.0,251.9 39.5,251.8 38.8,252.3C38.1,252.8 38.0,253.5 37.4,254.5C36.7,255.5 36.0,257.2 35.2,258.2C34.3,259.1 33.4,259.9 32.2,260.4C31.0,260.8 29.3,261.0 27.8,260.9C26.4,260.9 24.4,260.5 23.4,260.0C22.5,259.5 22.0,258.6 22.0,257.8C21.9,257.0 22.5,256.0 23.1,255.2C23.7,254.5 24.7,254.1 25.6,253.4C26.5,252.7 28.1,251.9 28.6,250.8C29.0,249.8 28.3,249.0 28.2,247.2C28.1,245.3 27.8,242.3 27.8,239.9C27.8,237.4 28.1,235.0 28.2,232.5C28.3,230.1 28.3,227.7 28.4,225.2C28.5,222.8 28.6,220.3 28.7,217.9C28.8,215.4 29.2,213.0 29.1,210.6C29.1,208.1 28.8,205.7 28.6,203.2C28.3,200.8 28.1,198.4 27.8,195.9C27.6,193.5 27.4,191.0 27.2,188.6C27.1,186.1 27.1,183.7 27.1,181.3C27.1,178.8 27.1,176.4 27.2,173.9C27.4,171.5 27.9,168.8 28.2,166.6C28.5,164.4 28.9,162.6 29.3,160.8C29.7,158.9 30.6,156.7 30.8,155.6C30.9,154.5 31.4,154.7 30.4,154.2C29.4,153.6 25.6,153.9 24.9,152.3C24.2,150.7 25.6,147.1 26.0,144.6C26.4,142.1 27.0,138.8 27.5,137.3C27.9,135.8 28.3,137.0 28.6,135.5C28.9,134.0 29.1,130.6 29.3,128.2C29.5,125.7 29.5,123.3 29.7,120.8C29.8,118.4 30.0,115.7 30.0,113.5C30.1,111.3 30.3,109.2 30.0,107.7C29.8,106.1 29.3,105.5 28.6,104.0C27.8,102.5 26.5,100.3 25.6,98.9C24.8,97.4 24.4,96.4 23.4,95.2C22.5,94.0 21.1,93.1 19.8,91.5C18.5,90.0 16.8,87.5 15.7,85.7C14.6,83.9 13.9,82.4 13.2,80.6C12.5,78.7 12.1,76.9 11.7,74.7C11.4,72.5 11.2,69.7 11.0,67.4C10.7,65.1 10.4,62.7 10.3,60.8C10.1,58.8 9.8,56.8 9.9,55.7C10.0,54.6 10.7,54.7 11.0,54.2C11.3,53.7 11.7,53.7 11.7,52.7C11.7,51.8 11.4,49.8 11.0,48.3C10.6,46.9 10.0,45.4 9.5,43.9C9.1,42.5 8.5,41.1 8.2,39.5C7.9,38.0 7.9,36.1 7.9,34.4C7.9,32.7 7.8,30.6 8.1,29.3Z" fill="#a3a3a3"/></g>
<g transform="translate(353.4,1540.0)"><line x1="106.0" y1="38.5" x2="106.2" y2="76.3" stroke="#c0c0c0" stroke-width="1.3"/><ellipse cx="106.0" cy="21.6" rx="13.9" ry="16.7" fill="#cbcbcb"/><path d="M104.5,37.8 l1.5,2.5 l1.5,-2.5z" fill="#cbcbcb"/><path d="M8.1,29.3C8.3,28.0 9.1,26.9 9.5,26.7C9.9,26.5 10.3,28.4 10.6,28.2C10.9,28.0 11.0,25.7 11.4,25.6C11.7,25.6 12.1,27.7 12.5,27.8C12.8,27.9 13.2,26.4 13.5,26.2C13.9,26.0 14.4,26.2 14.6,26.7C14.9,27.2 14.9,28.1 15.0,29.3C15.2,30.5 15.3,32.2 15.5,33.7C15.8,35.2 16.1,37.2 16.5,38.1C16.9,39.0 17.4,39.5 17.9,39.2C18.5,38.9 19.2,36.9 19.8,36.3C20.4,35.6 21.2,35.2 21.6,35.2C22.0,35.2 22.2,35.5 22.0,36.3C21.8,37.0 21.1,38.4 20.5,39.5C20.0,40.7 19.3,42.2 18.7,43.2C18.1,44.2 17.3,44.9 17.0,45.8C16.7,46.6 16.7,47.2 16.7,48.3C16.7,49.5 16.8,51.5 17.0,52.7C17.2,54.0 17.6,54.3 17.9,55.7C18.3,57.0 18.8,58.8 19.2,60.8C19.6,62.7 20.0,65.4 20.5,67.4C21.0,69.3 21.2,71.2 22.0,72.5C22.8,73.8 24.0,74.1 25.3,75.4C26.5,76.8 28.0,79.0 29.3,80.6C30.6,82.1 31.6,83.7 33.0,85.0C34.3,86.2 35.8,87.3 37.4,88.3C38.9,89.2 40.7,90.0 42.5,90.8C44.2,91.7 47.0,93.5 48.0,93.4C48.9,93.3 48.3,91.2 48.2,90.1C48.1,88.9 47.6,87.4 47.2,86.4C46.8,85.4 46.1,85.2 45.8,84.2C45.4,83.2 45.1,82.0 45.0,80.6C45.0,79.1 45.1,77.0 45.4,75.4C45.7,73.9 46.1,72.6 46.9,71.4C47.6,70.2 48.7,68.9 49.8,68.1C50.9,67.3 52.2,66.9 53.5,66.6C54.7,66.4 55.9,66.3 57.1,66.6C58.3,67.0 59.8,67.6 60.8,68.5C61.8,69.4 62.6,70.7 63.1,72.1C63.7,73.5 64.0,75.3 64.1,76.9C64.2,78.5 63.9,80.4 63.7,82.0C63.5,83.6 63.4,85.2 63.0,86.4C62.6,87.6 61.6,88.4 61.2,89.4C60.7,90.3 60.2,91.2 60.1,92.3C59.9,93.3 59.4,94.8 60.1,95.6C60.7,96.4 62.3,96.5 63.7,97.0C65.2,97.6 67.0,98.4 68.8,98.9C70.7,99.3 73.2,99.3 74.7,99.8C76.2,100.2 76.8,101.2 77.6,101.8C78.5,102.4 78.7,103.0 79.8,103.3C80.9,103.5 82.9,103.4 84.2,103.4C85.6,103.4 86.5,103.1 87.9,103.1C89.2,103.2 91.2,104.0 92.3,103.6C93.4,103.3 93.7,102.2 94.5,101.1C95.2,99.9 95.9,98.3 96.7,96.7C97.4,95.1 98.2,93.0 98.9,91.5C99.5,90.1 100.5,89.1 100.7,87.9C100.9,86.7 99.8,85.4 100.0,84.2C100.1,83.0 100.8,81.7 101.4,80.6C102.1,79.5 103.3,78.4 104.0,77.6C104.7,76.8 104.8,76.0 105.5,75.8C106.1,75.6 107.5,75.7 108.0,76.2C108.5,76.6 108.1,77.8 108.4,78.4C108.6,79.0 109.3,79.1 109.5,79.8C109.7,80.6 109.5,81.8 109.7,82.8C109.9,83.7 110.6,84.5 110.6,85.3C110.6,86.2 110.0,87.1 109.5,87.9C108.9,88.7 107.8,89.5 107.3,90.1C106.7,90.7 106.4,90.6 106.2,91.5C106.0,92.5 106.1,94.1 105.8,95.9C105.5,97.8 104.9,100.5 104.4,102.5C103.8,104.6 103.2,106.6 102.5,108.4C101.9,110.2 101.3,112.1 100.3,113.5C99.4,114.9 98.1,116.0 96.7,116.8C95.2,117.6 93.6,117.9 91.5,118.3C89.5,118.6 86.7,118.9 84.2,119.0C81.8,119.2 78.4,118.8 76.9,119.2C75.4,119.7 75.6,120.5 75.1,121.6C74.5,122.7 74.0,124.3 73.6,126.0C73.2,127.7 73.0,129.9 72.9,131.8C72.8,133.7 73.1,134.6 73.1,137.3C73.1,140.1 73.1,144.6 73.1,148.3C73.1,152.0 72.8,156.5 72.9,159.3C73.0,162.1 73.5,163.2 73.6,165.2C73.7,167.1 73.7,168.9 73.6,171.0C73.5,173.1 73.1,175.3 72.9,177.6C72.7,179.9 72.6,182.5 72.5,184.9C72.4,187.4 72.4,189.8 72.1,192.3C71.9,194.7 71.4,197.1 71.0,199.6C70.7,202.0 70.2,203.8 69.9,206.9C69.6,210.0 69.4,214.2 69.2,217.9C69.0,221.5 69.0,225.2 68.8,228.9C68.7,232.5 68.4,236.8 68.5,239.9C68.5,242.9 68.7,245.3 69.2,247.2C69.7,249.0 70.4,249.7 71.4,250.8C72.4,251.9 74.3,253.0 75.4,253.8C76.5,254.6 77.5,254.9 78.0,255.6C78.5,256.3 78.5,257.1 78.4,257.8C78.2,258.5 77.8,259.2 76.9,259.6C76.0,260.0 74.6,260.2 73.2,260.2C71.9,260.2 70.2,260.1 68.8,259.6C67.5,259.2 66.3,258.3 65.2,257.4C64.1,256.6 63.2,255.4 62.3,254.5C61.3,253.6 60.4,252.8 59.3,252.3C58.2,251.8 56.5,252.2 55.7,251.6C54.8,251.0 54.7,250.6 54.2,248.6C53.7,246.7 53.2,242.5 52.7,239.9C52.2,237.2 51.6,235.0 51.3,232.5C50.9,230.1 50.7,227.7 50.5,225.2C50.4,222.8 50.1,220.3 50.2,217.9C50.2,215.4 50.6,213.0 50.7,210.6C50.8,208.1 50.9,205.7 50.9,203.2C50.9,200.8 50.6,198.4 50.5,195.9C50.5,193.5 50.6,190.5 50.5,188.6C50.5,186.6 50.4,184.2 50.2,184.2C49.9,184.2 49.5,186.6 49.2,188.6C48.9,190.5 48.6,193.5 48.3,195.9C48.1,198.4 47.8,200.8 47.6,203.2C47.5,205.7 47.5,208.1 47.5,210.6C47.4,213.0 47.5,215.4 47.2,217.9C47.0,220.3 46.5,222.8 46.1,225.2C45.8,227.7 45.4,230.1 45.0,232.5C44.7,235.0 44.2,237.4 43.9,239.9C43.7,242.3 43.6,245.4 43.6,247.2C43.5,249.0 43.9,249.7 43.6,250.5C43.3,251.2 42.5,251.3 41.7,251.6C41.0,251.9 39.5,251.8 38.8,252.3C38.1,252.8 38.0,253.5 37.4,254.5C36.7,255.5 36.0,257.2 35.2,258.2C34.3,259.1 33.4,259.9 32.2,260.4C31.0,260.8 29.3,261.0 27.8,260.9C26.4,260.9 24.4,260.5 23.4,260.0C22.5,259.5 22.0,258.6 22.0,257.8C21.9,257.0 22.5,256.0 23.1,255.2C23.7,254.5 24.7,254.1 25.6,253.4C26.5,252.7 28.1,251.9 28.6,250.8C29.0,249.8 28.3,249.0 28.2,247.2C28.1,245.3 27.8,242.3 27.8,239.9C27.8,237.4 28.1,235.0 28.2,232.5C28.3,230.1 28.3,227.7 28.4,225.2C28.5,222.8 28.6,220.3 28.7,217.9C28.8,215.4 29.2,213.0 29.1,210.6C29.1,208.1 28.8,205.7 28.6,203.2C28.3,200.8 28.1,198.4 27.8,195.9C27.6,193.5 27.4,191.0 27.2,188.6C27.1,186.1 27.1,183.7 27.1,181.3C27.1,178.8 27.1,176.4 27.2,173.9C27.4,171.5 27.9,168.8 28.2,166.6C28.5,164.4 28.9,162.6 29.3,160.8C29.7,158.9 30.6,156.7 30.8,155.6C30.9,154.5 31.4,154.7 30.4,154.2C29.4,153.6 25.6,153.9 24.9,152.3C24.2,150.7 25.6,147.1 26.0,144.6C26.4,142.1 27.0,138.8 27.5,137.3C27.9,135.8 28.3,137.0 28.6,135.5C28.9,134.0 29.1,130.6 29.3,128.2C29.5,125.7 29.5,123.3 29.7,120.8C29.8,118.4 30.0,115.7 30.0,113.5C30.1,111.3 30.3,109.2 30.0,107.7C29.8,106.1 29.3,105.5 28.6,104.0C27.8,102.5 26.5,100.3 25.6,98.9C24.8,97.4 24.4,96.4 23.4,95.2C22.5,94.0 21.1,93.1 19.8,91.5C18.5,90.0 16.8,87.5 15.7,85.7C14.6,83.9 13.9,82.4 13.2,80.6C12.5,78.7 12.1,76.9 11.7,74.7C11.4,72.5 11.2,69.7 11.0,67.4C10.7,65.1 10.4,62.7 10.3,60.8C10.1,58.8 9.8,56.8 9.9,55.7C10.0,54.6 10.7,54.7 11.0,54.2C11.3,53.7 11.7,53.7 11.7,52.7C11.7,51.8 11.4,49.8 11.0,48.3C10.6,46.9 10.0,45.4 9.5,43.9C9.1,42.5 8.5,41.1 8.2,39.5C7.9,38.0 7.9,36.1 7.9,34.4C7.9,32.7 7.8,30.6 8.1,29.3Z" fill="#cbcbcb"/></g>
<g transform="translate(582.0,1540.0)"><line x1="106.0" y1="38.5" x2="106.2" y2="76.3" stroke="#b0b0b0" stroke-width="1.3"/><ellipse cx="106.0" cy="21.6" rx="13.9" ry="16.7" fill="#999"/><path d="M104.5,37.8 l1.5,2.5 l1.5,-2.5z" fill="#999"/><path d="M8.1,29.3C8.3,28.0 9.1,26.9 9.5,26.7C9.9,26.5 10.3,28.4 10.6,28.2C10.9,28.0 11.0,25.7 11.4,25.6C11.7,25.6 12.1,27.7 12.5,27.8C12.8,27.9 13.2,26.4 13.5,26.2C13.9,26.0 14.4,26.2 14.6,26.7C14.9,27.2 14.9,28.1 15.0,29.3C15.2,30.5 15.3,32.2 15.5,33.7C15.8,35.2 16.1,37.2 16.5,38.1C16.9,39.0 17.4,39.5 17.9,39.2C18.5,38.9 19.2,36.9 19.8,36.3C20.4,35.6 21.2,35.2 21.6,35.2C22.0,35.2 22.2,35.5 22.0,36.3C21.8,37.0 21.1,38.4 20.5,39.5C20.0,40.7 19.3,42.2 18.7,43.2C18.1,44.2 17.3,44.9 17.0,45.8C16.7,46.6 16.7,47.2 16.7,48.3C16.7,49.5 16.8,51.5 17.0,52.7C17.2,54.0 17.6,54.3 17.9,55.7C18.3,57.0 18.8,58.8 19.2,60.8C19.6,62.7 20.0,65.4 20.5,67.4C21.0,69.3 21.2,71.2 22.0,72.5C22.8,73.8 24.0,74.1 25.3,75.4C26.5,76.8 28.0,79.0 29.3,80.6C30.6,82.1 31.6,83.7 33.0,85.0C34.3,86.2 35.8,87.3 37.4,88.3C38.9,89.2 40.7,90.0 42.5,90.8C44.2,91.7 47.0,93.5 48.0,93.4C48.9,93.3 48.3,91.2 48.2,90.1C48.1,88.9 47.6,87.4 47.2,86.4C46.8,85.4 46.1,85.2 45.8,84.2C45.4,83.2 45.1,82.0 45.0,80.6C45.0,79.1 45.1,77.0 45.4,75.4C45.7,73.9 46.1,72.6 46.9,71.4C47.6,70.2 48.7,68.9 49.8,68.1C50.9,67.3 52.2,66.9 53.5,66.6C54.7,66.4 55.9,66.3 57.1,66.6C58.3,67.0 59.8,67.6 60.8,68.5C61.8,69.4 62.6,70.7 63.1,72.1C63.7,73.5 64.0,75.3 64.1,76.9C64.2,78.5 63.9,80.4 63.7,82.0C63.5,83.6 63.4,85.2 63.0,86.4C62.6,87.6 61.6,88.4 61.2,89.4C60.7,90.3 60.2,91.2 60.1,92.3C59.9,93.3 59.4,94.8 60.1,95.6C60.7,96.4 62.3,96.5 63.7,97.0C65.2,97.6 67.0,98.4 68.8,98.9C70.7,99.3 73.2,99.3 74.7,99.8C76.2,100.2 76.8,101.2 77.6,101.8C78.5,102.4 78.7,103.0 79.8,103.3C80.9,103.5 82.9,103.4 84.2,103.4C85.6,103.4 86.5,103.1 87.9,103.1C89.2,103.2 91.2,104.0 92.3,103.6C93.4,103.3 93.7,102.2 94.5,101.1C95.2,99.9 95.9,98.3 96.7,96.7C97.4,95.1 98.2,93.0 98.9,91.5C99.5,90.1 100.5,89.1 100.7,87.9C100.9,86.7 99.8,85.4 100.0,84.2C100.1,83.0 100.8,81.7 101.4,80.6C102.1,79.5 103.3,78.4 104.0,77.6C104.7,76.8 104.8,76.0 105.5,75.8C106.1,75.6 107.5,75.7 108.0,76.2C108.5,76.6 108.1,77.8 108.4,78.4C108.6,79.0 109.3,79.1 109.5,79.8C109.7,80.6 109.5,81.8 109.7,82.8C109.9,83.7 110.6,84.5 110.6,85.3C110.6,86.2 110.0,87.1 109.5,87.9C108.9,88.7 107.8,89.5 107.3,90.1C106.7,90.7 106.4,90.6 106.2,91.5C106.0,92.5 106.1,94.1 105.8,95.9C105.5,97.8 104.9,100.5 104.4,102.5C103.8,104.6 103.2,106.6 102.5,108.4C101.9,110.2 101.3,112.1 100.3,113.5C99.4,114.9 98.1,116.0 96.7,116.8C95.2,117.6 93.6,117.9 91.5,118.3C89.5,118.6 86.7,118.9 84.2,119.0C81.8,119.2 78.4,118.8 76.9,119.2C75.4,119.7 75.6,120.5 75.1,121.6C74.5,122.7 74.0,124.3 73.6,126.0C73.2,127.7 73.0,129.9 72.9,131.8C72.8,133.7 73.1,134.6 73.1,137.3C73.1,140.1 73.1,144.6 73.1,148.3C73.1,152.0 72.8,156.5 72.9,159.3C73.0,162.1 73.5,163.2 73.6,165.2C73.7,167.1 73.7,168.9 73.6,171.0C73.5,173.1 73.1,175.3 72.9,177.6C72.7,179.9 72.6,182.5 72.5,184.9C72.4,187.4 72.4,189.8 72.1,192.3C71.9,194.7 71.4,197.1 71.0,199.6C70.7,202.0 70.2,203.8 69.9,206.9C69.6,210.0 69.4,214.2 69.2,217.9C69.0,221.5 69.0,225.2 68.8,228.9C68.7,232.5 68.4,236.8 68.5,239.9C68.5,242.9 68.7,245.3 69.2,247.2C69.7,249.0 70.4,249.7 71.4,250.8C72.4,251.9 74.3,253.0 75.4,253.8C76.5,254.6 77.5,254.9 78.0,255.6C78.5,256.3 78.5,257.1 78.4,257.8C78.2,258.5 77.8,259.2 76.9,259.6C76.0,260.0 74.6,260.2 73.2,260.2C71.9,260.2 70.2,260.1 68.8,259.6C67.5,259.2 66.3,258.3 65.2,257.4C64.1,256.6 63.2,255.4 62.3,254.5C61.3,253.6 60.4,252.8 59.3,252.3C58.2,251.8 56.5,252.2 55.7,251.6C54.8,251.0 54.7,250.6 54.2,248.6C53.7,246.7 53.2,242.5 52.7,239.9C52.2,237.2 51.6,235.0 51.3,232.5C50.9,230.1 50.7,227.7 50.5,225.2C50.4,222.8 50.1,220.3 50.2,217.9C50.2,215.4 50.6,213.0 50.7,210.6C50.8,208.1 50.9,205.7 50.9,203.2C50.9,200.8 50.6,198.4 50.5,195.9C50.5,193.5 50.6,190.5 50.5,188.6C50.5,186.6 50.4,184.2 50.2,184.2C49.9,184.2 49.5,186.6 49.2,188.6C48.9,190.5 48.6,193.5 48.3,195.9C48.1,198.4 47.8,200.8 47.6,203.2C47.5,205.7 47.5,208.1 47.5,210.6C47.4,213.0 47.5,215.4 47.2,217.9C47.0,220.3 46.5,222.8 46.1,225.2C45.8,227.7 45.4,230.1 45.0,232.5C44.7,235.0 44.2,237.4 43.9,239.9C43.7,242.3 43.6,245.4 43.6,247.2C43.5,249.0 43.9,249.7 43.6,250.5C43.3,251.2 42.5,251.3 41.7,251.6C41.0,251.9 39.5,251.8 38.8,252.3C38.1,252.8 38.0,253.5 37.4,254.5C36.7,255.5 36.0,257.2 35.2,258.2C34.3,259.1 33.4,259.9 32.2,260.4C31.0,260.8 29.3,261.0 27.8,260.9C26.4,260.9 24.4,260.5 23.4,260.0C22.5,259.5 22.0,258.6 22.0,257.8C21.9,257.0 22.5,256.0 23.1,255.2C23.7,254.5 24.7,254.1 25.6,253.4C26.5,252.7 28.1,251.9 28.6,250.8C29.0,249.8 28.3,249.0 28.2,247.2C28.1,245.3 27.8,242.3 27.8,239.9C27.8,237.4 28.1,235.0 28.2,232.5C28.3,230.1 28.3,227.7 28.4,225.2C28.5,222.8 28.6,220.3 28.7,217.9C28.8,215.4 29.2,213.0 29.1,210.6C29.1,208.1 28.8,205.7 28.6,203.2C28.3,200.8 28.1,198.4 27.8,195.9C27.6,193.5 27.4,191.0 27.2,188.6C27.1,186.1 27.1,183.7 27.1,181.3C27.1,178.8 27.1,176.4 27.2,173.9C27.4,171.5 27.9,168.8 28.2,166.6C28.5,164.4 28.9,162.6 29.3,160.8C29.7,158.9 30.6,156.7 30.8,155.6C30.9,154.5 31.4,154.7 30.4,154.2C29.4,153.6 25.6,153.9 24.9,152.3C24.2,150.7 25.6,147.1 26.0,144.6C26.4,142.1 27.0,138.8 27.5,137.3C27.9,135.8 28.3,137.0 28.6,135.5C28.9,134.0 29.1,130.6 29.3,128.2C29.5,125.7 29.5,123.3 29.7,120.8C29.8,118.4 30.0,115.7 30.0,113.5C30.1,111.3 30.3,109.2 30.0,107.7C29.8,106.1 29.3,105.5 28.6,104.0C27.8,102.5 26.5,100.3 25.6,98.9C24.8,97.4 24.4,96.4 23.4,95.2C22.5,94.0 21.1,93.1 19.8,91.5C18.5,90.0 16.8,87.5 15.7,85.7C14.6,83.9 13.9,82.4 13.2,80.6C12.5,78.7 12.1,76.9 11.7,74.7C11.4,72.5 11.2,69.7 11.0,67.4C10.7,65.1 10.4,62.7 10.3,60.8C10.1,58.8 9.8,56.8 9.9,55.7C10.0,54.6 10.7,54.7 11.0,54.2C11.3,53.7 11.7,53.7 11.7,52.7C11.7,51.8 11.4,49.8 11.0,48.3C10.6,46.9 10.0,45.4 9.5,43.9C9.1,42.5 8.5,41.1 8.2,39.5C7.9,38.0 7.9,36.1 7.9,34.4C7.9,32.7 7.8,30.6 8.1,29.3Z" fill="#999"/></g>
<g transform="translate(953.0,1540.0)"><line x1="106.0" y1="38.5" x2="106.2" y2="76.3" stroke="#b0b0b0" stroke-width="1.3"/><ellipse cx="106.0" cy="21.6" rx="13.9" ry="16.7" fill="#999"/><path d="M104.5,37.8 l1.5,2.5 l1.5,-2.5z" fill="#999"/><path d="M8.1,29.3C8.3,28.0 9.1,26.9 9.5,26.7C9.9,26.5 10.3,28.4 10.6,28.2C10.9,28.0 11.0,25.7 11.4,25.6C11.7,25.6 12.1,27.7 12.5,27.8C12.8,27.9 13.2,26.4 13.5,26.2C13.9,26.0 14.4,26.2 14.6,26.7C14.9,27.2 14.9,28.1 15.0,29.3C15.2,30.5 15.3,32.2 15.5,33.7C15.8,35.2 16.1,37.2 16.5,38.1C16.9,39.0 17.4,39.5 17.9,39.2C18.5,38.9 19.2,36.9 19.8,36.3C20.4,35.6 21.2,35.2 21.6,35.2C22.0,35.2 22.2,35.5 22.0,36.3C21.8,37.0 21.1,38.4 20.5,39.5C20.0,40.7 19.3,42.2 18.7,43.2C18.1,44.2 17.3,44.9 17.0,45.8C16.7,46.6 16.7,47.2 16.7,48.3C16.7,49.5 16.8,51.5 17.0,52.7C17.2,54.0 17.6,54.3 17.9,55.7C18.3,57.0 18.8,58.8 19.2,60.8C19.6,62.7 20.0,65.4 20.5,67.4C21.0,69.3 21.2,71.2 22.0,72.5C22.8,73.8 24.0,74.1 25.3,75.4C26.5,76.8 28.0,79.0 29.3,80.6C30.6,82.1 31.6,83.7 33.0,85.0C34.3,86.2 35.8,87.3 37.4,88.3C38.9,89.2 40.7,90.0 42.5,90.8C44.2,91.7 47.0,93.5 48.0,93.4C48.9,93.3 48.3,91.2 48.2,90.1C48.1,88.9 47.6,87.4 47.2,86.4C46.8,85.4 46.1,85.2 45.8,84.2C45.4,83.2 45.1,82.0 45.0,80.6C45.0,79.1 45.1,77.0 45.4,75.4C45.7,73.9 46.1,72.6 46.9,71.4C47.6,70.2 48.7,68.9 49.8,68.1C50.9,67.3 52.2,66.9 53.5,66.6C54.7,66.4 55.9,66.3 57.1,66.6C58.3,67.0 59.8,67.6 60.8,68.5C61.8,69.4 62.6,70.7 63.1,72.1C63.7,73.5 64.0,75.3 64.1,76.9C64.2,78.5 63.9,80.4 63.7,82.0C63.5,83.6 63.4,85.2 63.0,86.4C62.6,87.6 61.6,88.4 61.2,89.4C60.7,90.3 60.2,91.2 60.1,92.3C59.9,93.3 59.4,94.8 60.1,95.6C60.7,96.4 62.3,96.5 63.7,97.0C65.2,97.6 67.0,98.4 68.8,98.9C70.7,99.3 73.2,99.3 74.7,99.8C76.2,100.2 76.8,101.2 77.6,101.8C78.5,102.4 78.7,103.0 79.8,103.3C80.9,103.5 82.9,103.4 84.2,103.4C85.6,103.4 86.5,103.1 87.9,103.1C89.2,103.2 91.2,104.0 92.3,103.6C93.4,103.3 93.7,102.2 94.5,101.1C95.2,99.9 95.9,98.3 96.7,96.7C97.4,95.1 98.2,93.0 98.9,91.5C99.5,90.1 100.5,89.1 100.7,87.9C100.9,86.7 99.8,85.4 100.0,84.2C100.1,83.0 100.8,81.7 101.4,80.6C102.1,79.5 103.3,78.4 104.0,77.6C104.7,76.8 104.8,76.0 105.5,75.8C106.1,75.6 107.5,75.7 108.0,76.2C108.5,76.6 108.1,77.8 108.4,78.4C108.6,79.0 109.3,79.1 109.5,79.8C109.7,80.6 109.5,81.8 109.7,82.8C109.9,83.7 110.6,84.5 110.6,85.3C110.6,86.2 110.0,87.1 109.5,87.9C108.9,88.7 107.8,89.5 107.3,90.1C106.7,90.7 106.4,90.6 106.2,91.5C106.0,92.5 106.1,94.1 105.8,95.9C105.5,97.8 104.9,100.5 104.4,102.5C103.8,104.6 103.2,106.6 102.5,108.4C101.9,110.2 101.3,112.1 100.3,113.5C99.4,114.9 98.1,116.0 96.7,116.8C95.2,117.6 93.6,117.9 91.5,118.3C89.5,118.6 86.7,118.9 84.2,119.0C81.8,119.2 78.4,118.8 76.9,119.2C75.4,119.7 75.6,120.5 75.1,121.6C74.5,122.7 74.0,124.3 73.6,126.0C73.2,127.7 73.0,129.9 72.9,131.8C72.8,133.7 73.1,134.6 73.1,137.3C73.1,140.1 73.1,144.6 73.1,148.3C73.1,152.0 72.8,156.5 72.9,159.3C73.0,162.1 73.5,163.2 73.6,165.2C73.7,167.1 73.7,168.9 73.6,171.0C73.5,173.1 73.1,175.3 72.9,177.6C72.7,179.9 72.6,182.5 72.5,184.9C72.4,187.4 72.4,189.8 72.1,192.3C71.9,194.7 71.4,197.1 71.0,199.6C70.7,202.0 70.2,203.8 69.9,206.9C69.6,210.0 69.4,214.2 69.2,217.9C69.0,221.5 69.0,225.2 68.8,228.9C68.7,232.5 68.4,236.8 68.5,239.9C68.5,242.9 68.7,245.3 69.2,247.2C69.7,249.0 70.4,249.7 71.4,250.8C72.4,251.9 74.3,253.0 75.4,253.8C76.5,254.6 77.5,254.9 78.0,255.6C78.5,256.3 78.5,257.1 78.4,257.8C78.2,258.5 77.8,259.2 76.9,259.6C76.0,260.0 74.6,260.2 73.2,260.2C71.9,260.2 70.2,260.1 68.8,259.6C67.5,259.2 66.3,258.3 65.2,257.4C64.1,256.6 63.2,255.4 62.3,254.5C61.3,253.6 60.4,252.8 59.3,252.3C58.2,251.8 56.5,252.2 55.7,251.6C54.8,251.0 54.7,250.6 54.2,248.6C53.7,246.7 53.2,242.5 52.7,239.9C52.2,237.2 51.6,235.0 51.3,232.5C50.9,230.1 50.7,227.7 50.5,225.2C50.4,222.8 50.1,220.3 50.2,217.9C50.2,215.4 50.6,213.0 50.7,210.6C50.8,208.1 50.9,205.7 50.9,203.2C50.9,200.8 50.6,198.4 50.5,195.9C50.5,193.5 50.6,190.5 50.5,188.6C50.5,186.6 50.4,184.2 50.2,184.2C49.9,184.2 49.5,186.6 49.2,188.6C48.9,190.5 48.6,193.5 48.3,195.9C48.1,198.4 47.8,200.8 47.6,203.2C47.5,205.7 47.5,208.1 47.5,210.6C47.4,213.0 47.5,215.4 47.2,217.9C47.0,220.3 46.5,222.8 46.1,225.2C45.8,227.7 45.4,230.1 45.0,232.5C44.7,235.0 44.2,237.4 43.9,239.9C43.7,242.3 43.6,245.4 43.6,247.2C43.5,249.0 43.9,249.7 43.6,250.5C43.3,251.2 42.5,251.3 41.7,251.6C41.0,251.9 39.5,251.8 38.8,252.3C38.1,252.8 38.0,253.5 37.4,254.5C36.7,255.5 36.0,257.2 35.2,258.2C34.3,259.1 33.4,259.9 32.2,260.4C31.0,260.8 29.3,261.0 27.8,260.9C26.4,260.9 24.4,260.5 23.4,260.0C22.5,259.5 22.0,258.6 22.0,257.8C21.9,257.0 22.5,256.0 23.1,255.2C23.7,254.5 24.7,254.1 25.6,253.4C26.5,252.7 28.1,251.9 28.6,250.8C29.0,249.8 28.3,249.0 28.2,247.2C28.1,245.3 27.8,242.3 27.8,239.9C27.8,237.4 28.1,235.0 28.2,232.5C28.3,230.1 28.3,227.7 28.4,225.2C28.5,222.8 28.6,220.3 28.7,217.9C28.8,215.4 29.2,213.0 29.1,210.6C29.1,208.1 28.8,205.7 28.6,203.2C28.3,200.8 28.1,198.4 27.8,195.9C27.6,193.5 27.4,191.0 27.2,188.6C27.1,186.1 27.1,183.7 27.1,181.3C27.1,178.8 27.1,176.4 27.2,173.9C27.4,171.5 27.9,168.8 28.2,166.6C28.5,164.4 28.9,162.6 29.3,160.8C29.7,158.9 30.6,156.7 30.8,155.6C30.9,154.5 31.4,154.7 30.4,154.2C29.4,153.6 25.6,153.9 24.9,152.3C24.2,150.7 25.6,147.1 26.0,144.6C26.4,142.1 27.0,138.8 27.5,137.3C27.9,135.8 28.3,137.0 28.6,135.5C28.9,134.0 29.1,130.6 29.3,128.2C29.5,125.7 29.5,123.3 29.7,120.8C29.8,118.4 30.0,115.7 30.0,113.5C30.1,111.3 30.3,109.2 30.0,107.7C29.8,106.1 29.3,105.5 28.6,104.0C27.8,102.5 26.5,100.3 25.6,98.9C24.8,97.4 24.4,96.4 23.4,95.2C22.5,94.0 21.1,93.1 19.8,91.5C18.5,90.0 16.8,87.5 15.7,85.7C14.6,83.9 13.9,82.4 13.2,80.6C12.5,78.7 12.1,76.9 11.7,74.7C11.4,72.5 11.2,69.7 11.0,67.4C10.7,65.1 10.4,62.7 10.3,60.8C10.1,58.8 9.8,56.8 9.9,55.7C10.0,54.6 10.7,54.7 11.0,54.2C11.3,53.7 11.7,53.7 11.7,52.7C11.7,51.8 11.4,49.8 11.0,48.3C10.6,46.9 10.0,45.4 9.5,43.9C9.1,42.5 8.5,41.1 8.2,39.5C7.9,38.0 7.9,36.1 7.9,34.4C7.9,32.7 7.8,30.6 8.1,29.3Z" fill="#999"/></g>
<g transform="translate(1370.0,1540.0)"><line x1="106.0" y1="38.5" x2="106.2" y2="76.3" stroke="#b0b0b0" stroke-width="1.3"/><ellipse cx="106.0" cy="21.6" rx="13.9" ry="16.7" fill="#999"/><path d="M104.5,37.8 l1.5,2.5 l1.5,-2.5z" fill="#999"/><path d="M8.1,29.3C8.3,28.0 9.1,26.9 9.5,26.7C9.9,26.5 10.3,28.4 10.6,28.2C10.9,28.0 11.0,25.7 11.4,25.6C11.7,25.6 12.1,27.7 12.5,27.8C12.8,27.9 13.2,26.4 13.5,26.2C13.9,26.0 14.4,26.2 14.6,26.7C14.9,27.2 14.9,28.1 15.0,29.3C15.2,30.5 15.3,32.2 15.5,33.7C15.8,35.2 16.1,37.2 16.5,38.1C16.9,39.0 17.4,39.5 17.9,39.2C18.5,38.9 19.2,36.9 19.8,36.3C20.4,35.6 21.2,35.2 21.6,35.2C22.0,35.2 22.2,35.5 22.0,36.3C21.8,37.0 21.1,38.4 20.5,39.5C20.0,40.7 19.3,42.2 18.7,43.2C18.1,44.2 17.3,44.9 17.0,45.8C16.7,46.6 16.7,47.2 16.7,48.3C16.7,49.5 16.8,51.5 17.0,52.7C17.2,54.0 17.6,54.3 17.9,55.7C18.3,57.0 18.8,58.8 19.2,60.8C19.6,62.7 20.0,65.4 20.5,67.4C21.0,69.3 21.2,71.2 22.0,72.5C22.8,73.8 24.0,74.1 25.3,75.4C26.5,76.8 28.0,79.0 29.3,80.6C30.6,82.1 31.6,83.7 33.0,85.0C34.3,86.2 35.8,87.3 37.4,88.3C38.9,89.2 40.7,90.0 42.5,90.8C44.2,91.7 47.0,93.5 48.0,93.4C48.9,93.3 48.3,91.2 48.2,90.1C48.1,88.9 47.6,87.4 47.2,86.4C46.8,85.4 46.1,85.2 45.8,84.2C45.4,83.2 45.1,82.0 45.0,80.6C45.0,79.1 45.1,77.0 45.4,75.4C45.7,73.9 46.1,72.6 46.9,71.4C47.6,70.2 48.7,68.9 49.8,68.1C50.9,67.3 52.2,66.9 53.5,66.6C54.7,66.4 55.9,66.3 57.1,66.6C58.3,67.0 59.8,67.6 60.8,68.5C61.8,69.4 62.6,70.7 63.1,72.1C63.7,73.5 64.0,75.3 64.1,76.9C64.2,78.5 63.9,80.4 63.7,82.0C63.5,83.6 63.4,85.2 63.0,86.4C62.6,87.6 61.6,88.4 61.2,89.4C60.7,90.3 60.2,91.2 60.1,92.3C59.9,93.3 59.4,94.8 60.1,95.6C60.7,96.4 62.3,96.5 63.7,97.0C65.2,97.6 67.0,98.4 68.8,98.9C70.7,99.3 73.2,99.3 74.7,99.8C76.2,100.2 76.8,101.2 77.6,101.8C78.5,102.4 78.7,103.0 79.8,103.3C80.9,103.5 82.9,103.4 84.2,103.4C85.6,103.4 86.5,103.1 87.9,103.1C89.2,103.2 91.2,104.0 92.3,103.6C93.4,103.3 93.7,102.2 94.5,101.1C95.2,99.9 95.9,98.3 96.7,96.7C97.4,95.1 98.2,93.0 98.9,91.5C99.5,90.1 100.5,89.1 100.7,87.9C100.9,86.7 99.8,85.4 100.0,84.2C100.1,83.0 100.8,81.7 101.4,80.6C102.1,79.5 103.3,78.4 104.0,77.6C104.7,76.8 104.8,76.0 105.5,75.8C106.1,75.6 107.5,75.7 108.0,76.2C108.5,76.6 108.1,77.8 108.4,78.4C108.6,79.0 109.3,79.1 109.5,79.8C109.7,80.6 109.5,81.8 109.7,82.8C109.9,83.7 110.6,84.5 110.6,85.3C110.6,86.2 110.0,87.1 109.5,87.9C108.9,88.7 107.8,89.5 107.3,90.1C106.7,90.7 106.4,90.6 106.2,91.5C106.0,92.5 106.1,94.1 105.8,95.9C105.5,97.8 104.9,100.5 104.4,102.5C103.8,104.6 103.2,106.6 102.5,108.4C101.9,110.2 101.3,112.1 100.3,113.5C99.4,114.9 98.1,116.0 96.7,116.8C95.2,117.6 93.6,117.9 91.5,118.3C89.5,118.6 86.7,118.9 84.2,119.0C81.8,119.2 78.4,118.8 76.9,119.2C75.4,119.7 75.6,120.5 75.1,121.6C74.5,122.7 74.0,124.3 73.6,126.0C73.2,127.7 73.0,129.9 72.9,131.8C72.8,133.7 73.1,134.6 73.1,137.3C73.1,140.1 73.1,144.6 73.1,148.3C73.1,152.0 72.8,156.5 72.9,159.3C73.0,162.1 73.5,163.2 73.6,165.2C73.7,167.1 73.7,168.9 73.6,171.0C73.5,173.1 73.1,175.3 72.9,177.6C72.7,179.9 72.6,182.5 72.5,184.9C72.4,187.4 72.4,189.8 72.1,192.3C71.9,194.7 71.4,197.1 71.0,199.6C70.7,202.0 70.2,203.8 69.9,206.9C69.6,210.0 69.4,214.2 69.2,217.9C69.0,221.5 69.0,225.2 68.8,228.9C68.7,232.5 68.4,236.8 68.5,239.9C68.5,242.9 68.7,245.3 69.2,247.2C69.7,249.0 70.4,249.7 71.4,250.8C72.4,251.9 74.3,253.0 75.4,253.8C76.5,254.6 77.5,254.9 78.0,255.6C78.5,256.3 78.5,257.1 78.4,257.8C78.2,258.5 77.8,259.2 76.9,259.6C76.0,260.0 74.6,260.2 73.2,260.2C71.9,260.2 70.2,260.1 68.8,259.6C67.5,259.2 66.3,258.3 65.2,257.4C64.1,256.6 63.2,255.4 62.3,254.5C61.3,253.6 60.4,252.8 59.3,252.3C58.2,251.8 56.5,252.2 55.7,251.6C54.8,251.0 54.7,250.6 54.2,248.6C53.7,246.7 53.2,242.5 52.7,239.9C52.2,237.2 51.6,235.0 51.3,232.5C50.9,230.1 50.7,227.7 50.5,225.2C50.4,222.8 50.1,220.3 50.2,217.9C50.2,215.4 50.6,213.0 50.7,210.6C50.8,208.1 50.9,205.7 50.9,203.2C50.9,200.8 50.6,198.4 50.5,195.9C50.5,193.5 50.6,190.5 50.5,188.6C50.5,186.6 50.4,184.2 50.2,184.2C49.9,184.2 49.5,186.6 49.2,188.6C48.9,190.5 48.6,193.5 48.3,195.9C48.1,198.4 47.8,200.8 47.6,203.2C47.5,205.7 47.5,208.1 47.5,210.6C47.4,213.0 47.5,215.4 47.2,217.9C47.0,220.3 46.5,222.8 46.1,225.2C45.8,227.7 45.4,230.1 45.0,232.5C44.7,235.0 44.2,237.4 43.9,239.9C43.7,242.3 43.6,245.4 43.6,247.2C43.5,249.0 43.9,249.7 43.6,250.5C43.3,251.2 42.5,251.3 41.7,251.6C41.0,251.9 39.5,251.8 38.8,252.3C38.1,252.8 38.0,253.5 37.4,254.5C36.7,255.5 36.0,257.2 35.2,258.2C34.3,259.1 33.4,259.9 32.2,260.4C31.0,260.8 29.3,261.0 27.8,260.9C26.4,260.9 24.4,260.5 23.4,260.0C22.5,259.5 22.0,258.6 22.0,257.8C21.9,257.0 22.5,256.0 23.1,255.2C23.7,254.5 24.7,254.1 25.6,253.4C26.5,252.7 28.1,251.9 28.6,250.8C29.0,249.8 28.3,249.0 28.2,247.2C28.1,245.3 27.8,242.3 27.8,239.9C27.8,237.4 28.1,235.0 28.2,232.5C28.3,230.1 28.3,227.7 28.4,225.2C28.5,222.8 28.6,220.3 28.7,217.9C28.8,215.4 29.2,213.0 29.1,210.6C29.1,208.1 28.8,205.7 28.6,203.2C28.3,200.8 28.1,198.4 27.8,195.9C27.6,193.5 27.4,191.0 27.2,188.6C27.1,186.1 27.1,183.7 27.1,181.3C27.1,178.8 27.1,176.4 27.2,173.9C27.4,171.5 27.9,168.8 28.2,166.6C28.5,164.4 28.9,162.6 29.3,160.8C29.7,158.9 30.6,156.7 30.8,155.6C30.9,154.5 31.4,154.7 30.4,154.2C29.4,153.6 25.6,153.9 24.9,152.3C24.2,150.7 25.6,147.1 26.0,144.6C26.4,142.1 27.0,138.8 27.5,137.3C27.9,135.8 28.3,137.0 28.6,135.5C28.9,134.0 29.1,130.6 29.3,128.2C29.5,125.7 29.5,123.3 29.7,120.8C29.8,118.4 30.0,115.7 30.0,113.5C30.1,111.3 30.3,109.2 30.0,107.7C29.8,106.1 29.3,105.5 28.6,104.0C27.8,102.5 26.5,100.3 25.6,98.9C24.8,97.4 24.4,96.4 23.4,95.2C22.5,94.0 21.1,93.1 19.8,91.5C18.5,90.0 16.8,87.5 15.7,85.7C14.6,83.9 13.9,82.4 13.2,80.6C12.5,78.7 12.1,76.9 11.7,74.7C11.4,72.5 11.2,69.7 11.0,67.4C10.7,65.1 10.4,62.7 10.3,60.8C10.1,58.8 9.8,56.8 9.9,55.7C10.0,54.6 10.7,54.7 11.0,54.2C11.3,53.7 11.7,53.7 11.7,52.7C11.7,51.8 11.4,49.8 11.0,48.3C10.6,46.9 10.0,45.4 9.5,43.9C9.1,42.5 8.5,41.1 8.2,39.5C7.9,38.0 7.9,36.1 7.9,34.4C7.9,32.7 7.8,30.6 8.1,29.3Z" fill="#999"/></g>
<g stroke-linecap="round"><line x1="187.6" y1="1702.5" x2="132.4" y2="1796.8" stroke="#555" stroke-width="7"/><line x1="187.6" y1="1702.5" x2="132.4" y2="1796.8" stroke="#6e6e6e" stroke-width="5.2"/><line x1="196.5" y1="1708.6" x2="196.5" y2="1796.8" stroke="#555" stroke-width="7"/><line x1="196.5" y1="1708.6" x2="196.5" y2="1796.8" stroke="#6e6e6e" stroke-width="5.2"/><line x1="206" y1="1702.5" x2="260.6" y2="1796.8" stroke="#555" stroke-width="7"/><line x1="206" y1="1702.5" x2="260.6" y2="1796.8" stroke="#6e6e6e" stroke-width="5.2"/></g>
<rect x="191" y="1672" width="11" height="34.5" fill="#919191" stroke="#555" stroke-width="0.8"/>
<defs><linearGradient id="gm" x1="0" x2="1" y1="0" y2="0"><stop offset="0" stop-color="#ededed"/><stop offset="1" stop-color="#b4b4b4"/></linearGradient><linearGradient id="gd" x1="0" x2="0" y1="0" y2="1"><stop offset="0" stop-color="#d0d0d0"/><stop offset="0.45" stop-color="#d8d8d8"/><stop offset="1" stop-color="#f6f6f6"/></linearGradient><linearGradient id="gr" x1="0" x2="1" y1="0" y2="0"><stop offset="0" stop-color="#aaa"/><stop offset="0.5" stop-color="#eee"/><stop offset="1" stop-color="#aaa"/></linearGradient></defs>
<g transform="translate(150,1580) scale(0.073239)" stroke-linejoin="round"><line x1="140" y1="1398" x2="620" y2="1400" stroke="#4f4f4f" stroke-width="92" stroke-linecap="round"/><circle cx="636" cy="1400" r="52" fill="#6a6a6a" stroke="#444" stroke-width="8"/><path d="M520,1245 L750,1245 L742,1288 L712,1310 L560,1310 L530,1288 Z" fill="#6c6c6c" stroke="#555" stroke-width="6"/><rect x="820" y="535" width="200" height="660" fill="url(#gm)" stroke="#707070" stroke-width="10"/><rect x="1015" y="520" width="72" height="676" fill="#949494" stroke="#585858" stroke-width="11"/><rect x="1087" y="530" width="24" height="660" fill="#7d7d7d"/><rect x="1105" y="493" width="428" height="732" rx="42" fill="#999" stroke="#606060" stroke-width="11"/><rect x="1522" y="520" width="24" height="680" fill="#858585"/><rect x="1541" y="493" width="50" height="732" rx="20" fill="url(#gr)" stroke="#555" stroke-width="13"/><path d="M235,235 L372,235 L372,490 L235,495 L247,430 L252,330 Z" fill="#e6e6e6" stroke="#4c4c4c" stroke-width="14"/><rect x="372" y="158" width="173" height="50" fill="#ededed" stroke="#4c4c4c" stroke-width="14"/><path d="M320,470 L320,340 C330,260 400,205 540,190 C660,195 740,240 762,300 C765,350 740,385 690,402 L680,402 L680,470 Z" fill="url(#gd)" stroke="#404040" stroke-width="14"/><path d="M386,318 L386,215 C430,198 480,192 540,190 C660,195 740,240 760,300 L760,318 Z" fill="#d3d3d3" stroke="#404040" stroke-width="14"/><line x1="680" y1="320" x2="680" y2="450" stroke="#404040" stroke-width="14"/><path d="M320,462 L740,455 L752,480 L712,557 L400,562 L335,522 Z" fill="#ececec" stroke="#383838" stroke-width="14"/><path d="M330,520 L400,562 L712,558 L750,470 C790,455 850,480 880,540 C880,570 830,600 805,650 C820,740 870,840 885,950 C885,1060 870,1150 830,1222 C815,1238 790,1242 780,1242 L540,1242 C490,1235 450,1215 440,1180 C440,1130 490,1100 525,1040 C545,960 500,880 440,760 C400,680 360,600 330,520 Z" fill="#8d8d8d" stroke="#303030" stroke-width="14"/><path d="M752,472 C790,458 850,482 876,540 L722,553 Z" fill="#b8b8b8"/></g>
<line x1="266.3" y1="1643" x2="1003" y2="1643" stroke="#1a1a1a" stroke-width="2.8" stroke-dasharray="8.15 8.784"/>
<line x1="637.2" y1="1454" x2="637.2" y2="1800" stroke="#1b1f6d" stroke-width="3.4" stroke-dasharray="3.5 8.8"/>
<line x1="1009" y1="1454" x2="1009" y2="1800" stroke="#1f2580" stroke-width="3"/>
<text x="266" y="1530.1" font-size="28.1" fill="#1b1f6d" text-anchor="end" font-weight="normal" textLength="67" lengthAdjust="spacingAndGlyphs">50mm</text>
<text x="266" y="1565.9" font-size="28.1" fill="#1b1f6d" text-anchor="end" font-weight="normal" textLength="74" lengthAdjust="spacingAndGlyphs">APS-C</text>
<text x="266" y="1600.8" font-size="28.1" fill="#1b1f6d" text-anchor="end" font-weight="normal" textLength="26" lengthAdjust="spacingAndGlyphs">f/2</text>
<text x="650" y="1485.5" font-size="28.1" fill="#1b1f6d" text-anchor="start" font-weight="normal" textLength="248" lengthAdjust="spacingAndGlyphs">near limit of acceptable</text>
<text x="650" y="1521" font-size="28.1" fill="#1b1f6d" text-anchor="start" font-weight="normal" textLength="111" lengthAdjust="spacingAndGlyphs">sharpness</text>
<text x="1021" y="1485.5" font-size="28.1" fill="#1b1f6d" text-anchor="start" font-weight="normal" textLength="111" lengthAdjust="spacingAndGlyphs">hyperfocal</text>
<text x="1021" y="1521" font-size="28.1" fill="#1b1f6d" text-anchor="start" font-weight="normal" textLength="89" lengthAdjust="spacingAndGlyphs">distance</text>
<text x="1439" y="1485.5" font-size="28.1" fill="#1b1f6d" text-anchor="start" font-weight="normal" textLength="228" lengthAdjust="spacingAndGlyphs">far limit of acceptable</text>
<text x="1439" y="1521" font-size="28.1" fill="#1b1f6d" text-anchor="start" font-weight="normal" textLength="111" lengthAdjust="spacingAndGlyphs">sharpness</text>
<path d="M1563.6,1508.4 V1517.2" stroke="#272d8c" stroke-width="2.2" fill="none"/><path d="M1563.6,1512.8 H1590" stroke="#272d8c" stroke-width="4" fill="none"/><path d="M1588.3,1504.4 L1596.8,1512.8 L1588.3,1521.2 Z" fill="#272d8c"/>
<path d="M1620,1512.9 C1624.13,1505.525 1631.8,1506.41 1631.8,1512.9 C1631.8,1519.39 1624.13,1520.275 1620,1512.9 C1615.87,1505.525 1608.2,1506.41 1608.2,1512.9 C1608.2,1519.39 1615.87,1520.275 1620,1512.9 Z" fill="none" stroke="#272d8c" stroke-width="4.3"/>
<g stroke="#1f2580" stroke-width="2.8" fill="none"><path d="M266,1827.5 V1840.6 H1009 V1827.5 M637.2,1827.5 V1840.6"/><path d="M266,1896.5 V1909 H1009 V1896.5"/><path d="M637.2,1964 V1977 H1429"/></g>
<path d="M1427.5,1968.8 L1436.5,1977 L1427.5,1985.2 Z" fill="#272d8c"/>
<path d="M1465.7,1977 C1470.075,1968.5625 1478.2,1969.575 1478.2,1977 C1478.2,1984.425 1470.075,1985.4375 1465.7,1977 C1461.325,1968.5625 1453.2,1969.575 1453.2,1977 C1453.2,1984.425 1461.325,1985.4375 1465.7,1977 Z" fill="none" stroke="#272d8c" stroke-width="4"/>
<text x="452" y="1827.5" font-size="28.1" fill="#1b1f6d" text-anchor="middle" font-weight="normal" textLength="33" lengthAdjust="spacingAndGlyphs">1/2</text>
<text x="823" y="1827.5" font-size="28.1" fill="#1b1f6d" text-anchor="middle" font-weight="normal" textLength="33" lengthAdjust="spacingAndGlyphs">1/2</text>
<text x="634" y="1895.5" font-size="28.1" fill="#1b1f6d" text-anchor="middle" font-weight="normal" textLength="208" lengthAdjust="spacingAndGlyphs">hyperfocal distance</text>
<text x="1032" y="1964.5" font-size="28.1" fill="#1b1f6d" text-anchor="middle" font-weight="normal" textLength="150" lengthAdjust="spacingAndGlyphs">Depth of Field</text>
<path d="M0,0 H1775 V2048 H0 Z M1.1,1.1 V2046.5 H1773.7 V1.1 Z" fill="#000" fill-rule="evenodd"/>
</svg></body></html>
